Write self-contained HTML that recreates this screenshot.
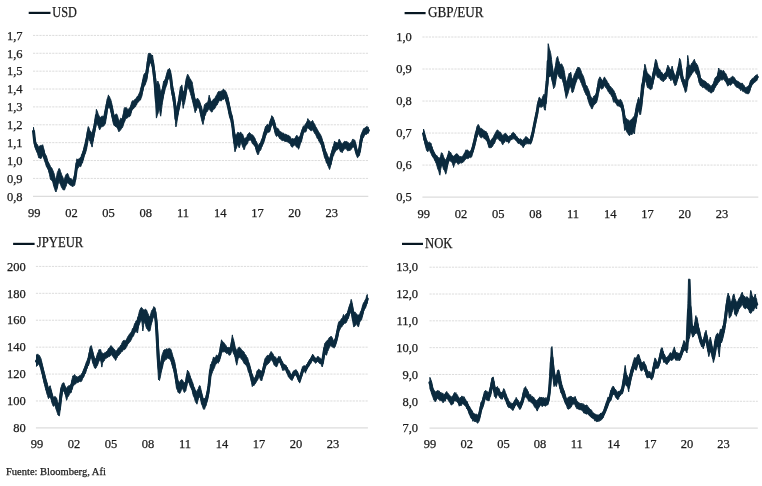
<!DOCTYPE html>
<html><head><meta charset="utf-8"><style>
html,body{margin:0;padding:0;background:#fff;}
svg{display:block;}
text{font-family:'Liberation Serif', serif;fill:#1c1c1c;stroke:#1c1c1c;stroke-width:0.25px;}
.lg{font-size:13.6px;}
.yl{font-size:12.5px;text-anchor:end;}
.xl{font-size:12.5px;text-anchor:middle;}
.ft{font-size:10.5px;}
.gd{stroke:#dcdcdc;stroke-width:1;stroke-dasharray:2.2 1;}
.ax{stroke:#dcdcdc;stroke-width:1.2;}
</style></head><body>
<svg width="762" height="486" viewBox="0 0 762 486">
<rect width="762" height="486" fill="#fff"/>
<line x1="28.7" y1="12.9" x2="50.5" y2="12.9" stroke="#071722" stroke-width="2.2"/>
<text x="52.3" y="16.7" class="lg" textLength="24.5" lengthAdjust="spacingAndGlyphs">USD</text>
<line x1="33" y1="35.4" x2="368.3" y2="35.4" class="gd"/>
<text x="22.5" y="39.6" class="yl">1,7</text>
<line x1="33" y1="53.28" x2="368.3" y2="53.28" class="gd"/>
<text x="22.5" y="57.5" class="yl">1,6</text>
<line x1="33" y1="71.16" x2="368.3" y2="71.16" class="gd"/>
<text x="22.5" y="75.4" class="yl">1,5</text>
<line x1="33" y1="89.03" x2="368.3" y2="89.03" class="gd"/>
<text x="22.5" y="93.2" class="yl">1,4</text>
<line x1="33" y1="106.91" x2="368.3" y2="106.91" class="gd"/>
<text x="22.5" y="111.1" class="yl">1,3</text>
<line x1="33" y1="124.79" x2="368.3" y2="124.79" class="gd"/>
<text x="22.5" y="129.0" class="yl">1,2</text>
<line x1="33" y1="142.67" x2="368.3" y2="142.67" class="gd"/>
<text x="22.5" y="146.9" class="yl">1,1</text>
<line x1="33" y1="160.54" x2="368.3" y2="160.54" class="gd"/>
<text x="22.5" y="164.7" class="yl">1,0</text>
<line x1="33" y1="178.42" x2="368.3" y2="178.42" class="gd"/>
<text x="22.5" y="182.6" class="yl">0,9</text>
<line x1="33" y1="196.3" x2="368.3" y2="196.3" class="ax"/>
<text x="22.5" y="200.5" class="yl">0,8</text>
<text x="34.2" y="216.5" class="xl">99</text>
<text x="71.4" y="216.5" class="xl">02</text>
<text x="108.6" y="216.5" class="xl">05</text>
<text x="145.8" y="216.5" class="xl">08</text>
<text x="183.0" y="216.5" class="xl">11</text>
<text x="220.2" y="216.5" class="xl">14</text>
<text x="257.4" y="216.5" class="xl">17</text>
<text x="294.6" y="216.5" class="xl">20</text>
<text x="331.8" y="216.5" class="xl">23</text>
<polygon points="33.5,127.3 34.5,136.8 34.9,139.3 35.5,141.5 36.5,144.2 36.8,144.2 37.5,144.6 38.5,147.5 38.8,147.1 39.5,146.0 40.5,145.4 40.7,146.1 41.5,145.4 42.5,145.1 42.7,144.8 43.5,147.8 44.5,152.1 44.6,153.0 45.5,155.0 46.5,156.0 46.6,156.9 47.5,160.2 48.5,163.2 48.6,162.7 49.5,164.4 50.5,166.6 50.5,167.5 51.5,167.6 52.5,169.6 52.5,169.6 53.5,172.2 54.4,174.5 54.5,175.8 55.5,179.3 56.0,182.3 56.5,177.8 57.3,172.5 57.5,172.2 58.5,170.0 58.9,168.6 59.5,168.7 60.3,170.5 60.5,171.5 61.5,174.3 62.2,176.4 62.5,176.3 63.5,179.5 64.2,180.3 64.5,178.8 65.5,175.9 66.1,174.5 66.5,174.1 67.5,173.5 67.5,173.3 68.5,175.4 69.1,177.4 69.5,177.7 70.5,178.7 71.0,178.4 71.5,179.1 72.5,180.0 73.0,180.3 73.5,178.4 74.5,175.1 74.9,174.5 75.5,169.8 76.5,161.4 76.9,158.8 77.5,159.5 78.5,159.3 78.8,158.8 79.5,158.8 80.5,157.2 80.8,157.9 81.5,155.0 82.5,152.8 82.7,152.0 83.5,149.8 84.5,145.1 84.7,145.2 85.5,141.0 86.5,137.1 86.6,137.3 87.5,131.0 88.2,126.6 88.5,126.8 89.5,129.6 90.2,131.5 90.5,131.1 91.5,132.9 92.1,133.4 92.5,131.8 93.5,127.5 94.1,125.6 94.5,122.6 95.5,117.1 96.0,113.9 96.4,109.3 96.5,109.6 97.5,112.0 98.2,114.2 98.5,114.7 99.5,117.0 99.8,118.1 100.5,117.2 101.5,116.7 101.7,116.2 102.5,116.2 103.5,116.6 103.7,117.1 104.5,113.0 105.5,108.0 105.6,108.4 106.5,103.3 107.2,98.6 107.5,98.7 108.5,94.9 108.6,95.7 109.5,96.7 110.1,98.6 110.5,98.9 111.5,102.5 111.5,102.5 112.5,107.4 113.0,110.3 113.5,112.8 114.4,116.2 114.5,115.5 115.5,114.6 115.8,114.2 116.5,113.9 117.3,115.2 117.5,115.8 118.5,120.1 118.9,122.0 119.5,121.1 120.5,118.7 120.7,118.1 121.5,118.6 122.2,120.1 122.5,118.5 123.5,112.9 124.2,108.4 124.5,107.7 125.5,107.7 126.1,107.4 126.5,107.7 127.5,109.4 128.1,109.3 128.5,109.6 129.5,107.7 130.0,108.4 130.5,107.0 131.5,102.9 132.0,101.5 132.5,100.7 133.5,101.1 133.9,100.5 134.5,99.8 135.5,98.8 135.9,98.6 136.5,98.0 137.5,96.1 137.9,95.7 138.5,95.2 139.5,92.7 139.8,92.7 140.5,89.3 141.5,85.7 141.8,84.9 142.5,81.1 143.5,76.1 143.7,75.2 144.5,73.5 145.5,73.2 145.7,73.2 146.5,68.9 147.0,65.4 147.5,60.5 148.2,54.6 148.5,53.5 149.5,53.6 149.6,53.3 150.5,53.6 150.9,54.6 151.5,55.1 152.5,55.6 152.5,55.0 153.5,62.9 153.9,65.4 154.5,70.1 155.0,73.2 155.5,77.2 156.4,84.9 156.5,85.1 157.5,82.3 157.8,81.0 158.5,82.8 159.3,84.9 159.5,86.0 160.5,92.0 160.7,92.7 161.5,90.6 162.3,88.8 162.5,88.0 163.5,82.1 163.8,81.0 164.5,80.6 165.2,79.1 165.5,78.6 166.5,74.4 166.8,73.2 167.5,71.1 168.1,69.3 168.5,69.5 169.5,68.3 169.5,68.5 170.5,71.0 170.7,72.2 171.5,78.8 172.0,83.0 172.5,85.6 173.5,90.9 173.6,90.8 174.5,95.2 175.0,98.6 175.5,105.8 175.9,110.3 176.5,107.6 177.5,104.5 177.5,104.7 178.5,100.3 178.9,98.6 179.5,93.3 180.4,86.9 180.5,87.1 181.5,85.7 181.8,84.9 182.5,89.8 183.2,92.7 183.5,91.6 184.5,91.1 184.7,90.8 185.5,84.0 186.1,79.1 186.5,77.9 187.5,74.4 187.7,74.2 188.5,75.6 189.5,77.9 190.5,79.5 190.5,79.2 191.5,81.5 192.0,81.5 192.5,84.4 193.5,90.9 193.6,91.2 194.5,96.3 195.2,99.1 195.5,99.5 196.5,99.4 196.7,99.1 197.5,98.2 198.3,99.1 198.5,99.4 199.5,101.2 199.8,102.0 200.5,104.2 201.4,106.9 201.5,106.5 202.5,111.7 203.0,112.7 203.5,110.9 204.5,104.6 204.5,104.9 205.5,104.2 206.1,103.0 206.5,102.9 207.5,103.2 207.7,103.0 208.5,99.2 209.2,95.2 209.5,96.8 210.5,99.8 210.8,101.0 211.5,101.5 212.3,101.0 212.5,101.1 213.5,99.0 213.9,99.1 214.5,98.9 215.5,97.1 215.5,97.1 216.5,95.1 217.2,94.2 217.5,93.1 218.5,91.6 219.2,91.2 219.5,92.2 220.5,91.3 221.1,92.2 221.5,90.8 222.5,90.7 223.1,89.3 223.5,89.0 224.5,90.6 225.0,90.3 225.5,91.1 226.5,92.8 226.6,93.2 227.5,96.3 228.0,97.1 228.5,100.1 229.5,104.8 229.5,104.9 230.5,109.1 231.1,112.7 231.5,113.6 232.5,117.2 232.7,118.6 233.5,125.6 233.8,128.4 234.5,131.4 235.0,134.2 235.5,134.6 236.4,136.2 236.5,135.1 237.5,132.6 237.7,132.3 238.5,132.5 239.3,134.2 239.5,133.3 240.5,132.1 240.9,132.3 241.5,133.4 242.4,134.2 242.5,133.9 243.5,136.9 244.0,138.1 244.5,138.8 245.5,137.9 245.5,138.1 246.5,137.6 247.1,136.2 247.5,134.6 248.5,133.5 248.7,133.2 249.5,132.6 250.2,133.2 250.5,134.0 251.5,134.4 251.8,135.2 252.5,134.8 253.4,136.2 253.5,135.9 254.5,138.1 254.9,138.1 255.5,140.3 256.5,142.0 256.5,142.1 257.5,144.2 257.9,145.9 258.5,145.8 259.2,144.0 259.5,143.5 260.5,142.5 260.8,142.0 261.5,139.7 262.3,138.1 262.5,138.1 263.5,133.0 263.9,132.3 264.5,130.6 265.5,126.4 265.5,126.8 266.5,126.0 267.0,124.5 267.5,124.3 268.5,125.7 268.6,126.4 269.5,122.8 270.2,120.5 270.5,120.2 271.5,117.1 271.7,115.7 272.5,116.4 273.3,117.6 273.5,118.3 274.5,122.1 274.8,122.5 275.5,125.6 276.4,128.4 276.5,129.2 277.5,128.1 278.0,128.4 278.5,128.9 279.5,131.8 279.5,131.3 280.5,131.6 281.1,132.3 281.5,132.3 282.5,132.9 282.7,133.2 283.5,133.0 284.5,134.5 285.5,134.0 285.9,135.2 286.5,134.6 287.5,135.2 287.5,135.3 288.5,135.3 289.1,136.1 289.5,136.0 290.5,137.2 290.6,138.1 291.5,139.0 292.2,139.1 292.5,138.5 293.5,138.8 293.8,139.1 294.5,138.6 295.3,138.1 295.5,137.2 296.5,135.6 296.9,135.2 297.5,136.6 298.4,137.1 298.5,137.2 299.5,136.8 300.0,136.1 300.5,134.4 301.5,131.3 301.6,131.2 302.5,128.9 303.1,126.4 303.5,126.1 304.5,126.4 304.7,125.4 305.5,123.8 306.2,123.4 306.5,123.0 307.5,120.3 307.8,118.6 308.5,120.3 309.4,120.5 309.5,120.8 310.5,122.0 310.9,122.5 311.5,121.5 312.5,120.5 312.5,120.4 313.5,122.4 314.1,123.4 314.5,123.8 315.5,126.5 315.6,126.4 316.5,127.9 317.2,129.3 317.5,129.6 318.5,132.0 318.8,132.2 319.5,132.9 320.3,135.2 320.5,134.7 321.5,137.1 321.9,138.1 322.5,140.5 323.4,143.0 323.5,142.6 324.5,147.6 325.0,148.8 325.5,150.8 326.5,152.5 326.6,152.7 327.5,155.4 328.1,156.6 328.5,157.2 329.5,158.8 329.7,158.6 330.5,155.6 331.2,152.7 331.5,152.4 332.5,148.4 332.8,146.9 333.5,145.5 334.4,142.0 334.5,141.1 335.5,142.9 335.9,142.0 336.5,142.5 337.5,143.0 337.5,143.6 338.5,141.3 339.1,139.1 339.5,139.4 340.5,142.0 340.6,142.0 341.5,142.9 342.2,143.9 342.5,144.2 343.5,142.4 343.8,142.0 344.5,141.3 345.3,142.0 345.5,141.5 346.5,141.4 346.9,142.0 347.5,141.9 348.4,143.0 348.5,143.1 349.5,143.4 350.0,143.9 350.5,142.6 351.5,142.7 351.6,142.0 352.5,139.4 353.1,139.1 353.5,140.2 354.5,140.0 354.7,140.0 355.5,142.9 356.2,146.9 356.5,148.1 357.5,150.7 357.8,150.8 358.5,149.5 359.4,146.9 359.5,145.9 360.5,137.6 360.9,135.2 361.5,133.6 362.5,131.2 362.5,131.5 363.5,128.7 364.1,128.3 364.5,128.3 365.5,127.6 365.6,127.3 366.5,126.7 367.2,126.4 367.5,127.3 368.4,127.3 368.4,133.2 367.5,133.3 367.2,133.2 366.5,134.4 365.6,134.2 365.5,133.8 364.5,135.5 364.1,136.1 363.5,137.6 362.5,138.2 362.5,139.1 361.5,143.5 360.9,146.9 360.5,148.7 359.5,155.2 359.4,155.7 358.5,155.9 357.8,157.6 357.5,157.8 356.5,155.3 356.2,154.7 355.5,151.8 354.7,147.9 354.5,147.6 353.5,147.3 353.1,146.9 352.5,147.0 351.6,148.8 351.5,149.2 350.5,149.5 350.0,150.8 349.5,150.4 348.5,149.9 348.4,150.8 347.5,150.8 346.9,149.8 346.5,148.8 345.5,148.7 345.3,148.8 344.5,148.7 343.8,149.8 343.5,150.3 342.5,151.7 342.2,152.7 341.5,151.7 340.6,151.8 340.5,151.9 339.5,149.1 339.1,148.8 338.5,148.7 337.5,149.3 337.5,149.8 336.5,149.9 335.9,150.8 335.5,151.0 334.5,153.1 334.4,152.7 333.5,155.8 332.8,156.6 332.5,158.1 331.5,162.3 331.2,164.5 330.5,165.9 329.7,169.3 329.5,169.5 328.5,166.6 328.1,166.4 327.5,164.4 326.6,162.5 326.5,163.1 325.5,159.4 325.0,158.6 324.5,157.6 323.5,152.4 323.4,152.7 322.5,149.7 321.9,146.9 321.5,145.2 320.5,143.8 320.3,143.0 319.5,141.9 318.8,141.0 318.5,139.7 317.5,138.7 317.2,138.1 316.5,136.6 315.6,134.2 315.5,133.6 314.5,133.4 314.1,132.2 313.5,131.2 312.5,129.7 312.5,129.3 311.5,130.8 310.9,130.3 310.5,130.6 309.5,129.3 309.4,129.3 308.5,128.6 307.8,127.3 307.5,127.3 306.5,129.8 306.2,131.2 305.5,132.1 304.7,132.2 304.5,131.6 303.5,132.9 303.1,133.2 302.5,136.3 301.6,141.0 301.5,141.7 300.5,143.1 300.0,144.9 299.5,146.8 298.5,149.3 298.4,148.8 297.5,147.0 296.9,146.9 296.5,147.2 295.5,145.3 295.3,144.9 294.5,144.8 293.8,145.9 293.5,145.3 292.5,147.3 292.2,146.9 291.5,146.7 290.6,144.9 290.5,144.5 289.5,143.1 289.1,143.0 288.5,142.8 287.5,141.4 287.5,142.0 286.5,141.3 285.9,142.0 285.5,140.9 284.5,141.2 283.5,140.4 282.7,140.1 282.5,140.7 281.5,140.2 281.1,139.1 280.5,139.2 279.5,138.1 279.5,138.4 278.5,136.2 278.0,136.2 277.5,135.7 276.5,136.6 276.4,136.2 275.5,134.7 274.8,132.3 274.5,130.3 273.5,125.8 273.3,124.5 272.5,125.3 271.7,124.5 271.5,125.2 270.5,128.9 270.2,130.3 269.5,132.0 268.6,132.3 268.5,132.3 267.5,132.8 267.0,132.3 266.5,134.1 265.5,136.2 265.5,136.2 264.5,140.1 263.9,142.0 263.5,143.1 262.5,145.3 262.3,145.9 261.5,147.4 260.8,149.8 260.5,150.4 259.5,150.7 259.2,151.8 258.5,154.2 257.9,154.9 257.5,154.3 256.5,151.2 256.5,151.8 255.5,147.5 254.9,145.9 254.5,145.9 253.5,144.6 253.4,144.0 252.5,143.8 251.8,142.0 251.5,141.5 250.5,139.7 250.2,140.1 249.5,140.3 248.7,140.1 248.5,139.7 247.5,143.6 247.1,144.0 246.5,144.8 245.5,145.9 245.5,145.1 244.5,149.0 244.0,149.8 243.5,148.2 242.5,146.6 242.4,145.9 241.5,142.9 240.9,142.0 240.5,143.4 239.5,147.1 239.3,147.9 238.5,146.4 237.7,144.0 237.5,144.2 236.5,147.9 236.4,147.9 235.5,149.9 235.0,151.8 234.5,148.4 233.8,142.0 233.5,139.1 232.7,130.3 232.5,128.6 231.5,123.9 231.1,120.5 230.5,119.7 229.5,116.6 229.5,116.8 228.5,111.8 228.0,108.8 227.5,107.2 226.6,103.0 226.5,103.3 225.5,100.0 225.0,98.1 224.5,98.6 223.5,99.6 223.1,99.1 222.5,98.9 221.5,100.8 221.1,101.0 220.5,100.7 219.5,100.3 219.2,101.0 218.5,101.9 217.5,103.9 217.2,104.9 216.5,104.9 215.5,106.9 215.5,106.9 214.5,108.9 213.9,108.8 213.5,109.6 212.5,110.8 212.3,111.8 211.5,112.1 210.8,110.8 210.5,111.0 209.5,109.1 209.2,108.8 208.5,108.9 207.7,110.8 207.5,111.2 206.5,112.3 206.1,112.7 205.5,114.8 204.5,116.6 204.5,117.5 203.5,121.8 203.0,124.5 202.5,122.9 201.5,119.5 201.4,118.6 200.5,114.6 199.8,110.8 199.5,109.4 198.5,107.3 198.3,106.9 197.5,107.6 196.7,108.8 196.5,110.0 195.5,111.3 195.2,112.7 194.5,109.6 193.6,104.9 193.5,105.1 192.5,100.7 192.0,99.1 191.5,96.8 190.5,93.7 190.5,93.2 189.5,90.3 188.5,88.0 187.7,84.9 187.5,85.8 186.5,91.2 186.1,92.7 185.5,96.3 184.7,102.5 184.5,102.8 183.5,106.2 183.2,108.4 182.5,102.4 181.8,96.6 181.5,97.5 180.5,102.7 180.4,102.5 179.5,107.9 178.9,110.3 178.5,112.5 177.5,118.0 177.5,118.1 176.5,124.5 175.9,126.9 175.5,121.8 175.0,114.2 174.5,109.7 173.6,102.5 173.5,102.5 172.5,96.5 172.0,94.7 171.5,91.1 170.7,83.0 170.5,81.9 169.5,76.6 169.5,77.1 168.5,79.1 168.1,79.1 167.5,80.9 166.8,84.9 166.5,85.1 165.5,88.2 165.2,88.8 164.5,92.2 163.8,94.7 163.5,96.1 162.5,101.9 162.3,102.5 161.5,109.8 160.7,116.2 160.5,115.7 159.5,108.7 159.3,108.4 158.5,111.1 157.8,114.2 157.5,114.2 156.5,117.8 156.4,118.1 155.5,99.6 155.0,90.8 154.5,84.8 153.9,79.1 153.5,75.9 152.5,66.7 152.5,67.3 151.5,64.8 150.9,63.4 150.5,62.9 149.6,63.4 149.5,64.2 148.5,68.3 148.2,69.3 147.5,75.1 147.0,79.1 146.5,81.3 145.7,83.0 145.5,84.1 144.5,85.9 143.7,86.9 143.5,88.3 142.5,92.2 141.8,96.6 141.5,96.6 140.5,99.9 139.8,100.5 139.5,100.2 138.5,101.9 137.9,102.5 137.5,102.1 136.5,105.0 135.9,105.4 135.5,106.7 134.5,107.6 133.9,108.4 133.5,108.4 132.5,109.7 132.0,110.3 131.5,110.9 130.5,115.6 130.0,116.2 129.5,116.7 128.5,116.7 128.1,117.1 127.5,117.9 126.5,118.4 126.1,118.1 125.5,119.2 124.5,121.9 124.2,122.0 123.5,124.3 122.5,127.6 122.2,127.9 121.5,128.5 120.7,129.8 120.5,130.0 119.5,131.1 118.9,131.8 118.5,130.9 117.5,127.9 117.3,127.9 116.5,127.3 115.8,125.9 115.5,126.7 114.5,125.5 114.4,125.9 113.5,124.1 113.0,122.0 112.5,119.6 111.5,114.8 111.5,114.2 110.5,110.5 110.1,108.4 109.5,108.1 108.6,106.4 108.5,107.1 107.5,109.5 107.2,110.3 106.5,116.2 105.6,122.0 105.5,123.0 104.5,125.0 103.7,125.9 103.5,126.2 102.5,126.6 101.7,125.9 101.5,126.9 100.5,127.9 99.8,129.8 99.5,129.7 98.5,126.5 98.2,125.9 97.5,124.5 96.5,122.5 96.4,122.0 96.0,125.6 95.5,128.1 94.5,133.0 94.1,135.4 93.5,138.7 92.5,144.7 92.1,147.1 91.5,144.9 90.5,142.9 90.2,141.2 89.5,140.8 88.5,137.1 88.2,137.3 87.5,142.0 86.6,149.1 86.5,149.3 85.5,152.9 84.7,154.9 84.5,154.7 83.5,159.0 82.7,161.8 82.5,163.1 81.5,164.0 80.8,166.6 80.5,166.6 79.5,166.2 78.8,166.6 78.5,167.5 77.5,168.8 76.9,168.6 76.5,171.6 75.5,178.7 74.9,184.2 74.5,185.4 73.5,185.8 73.0,186.6 72.5,186.4 71.5,186.0 71.0,185.2 70.5,185.2 69.5,184.7 69.1,184.2 68.5,183.4 67.5,182.6 67.5,182.3 66.5,184.6 66.1,186.2 65.5,187.1 64.5,190.0 64.2,190.1 63.5,190.0 62.5,189.0 62.2,188.1 61.5,187.3 60.5,184.2 60.3,184.2 59.5,182.6 58.9,180.3 58.5,182.0 57.5,187.0 57.3,188.1 56.5,190.6 56.0,192.0 55.5,191.5 54.5,188.1 54.4,188.1 53.5,185.0 52.5,180.7 52.5,181.3 51.5,180.0 50.5,179.5 50.5,179.3 49.5,174.3 48.6,170.5 48.5,170.2 47.5,168.4 46.6,166.6 46.5,166.8 45.5,163.3 44.6,160.8 44.5,160.4 43.5,157.3 42.7,154.9 42.5,155.3 41.5,157.9 40.7,158.8 40.5,158.5 39.5,157.9 38.8,157.9 38.5,156.9 37.5,153.3 36.8,152.0 36.5,151.1 35.5,148.7 34.9,147.1 34.5,143.3 33.5,135.6" fill="#0b2a3e" stroke="#0b2a3e" stroke-width="1" stroke-linejoin="round"/>
<polyline points="33.5,131.3 34.9,143.2 36.8,148.1 38.8,152.5 40.7,152.5 42.7,149.8 44.6,156.9 46.6,161.8 48.6,166.6 50.5,173.0 52.5,175.4 54.4,181.3 56.0,187.1 57.3,180.3 58.9,174.5 60.3,177.4 62.2,182.3 64.2,185.2 66.1,180.3 67.5,177.9 69.1,180.8 71.0,181.8 73.0,183.4 74.9,179.3 76.9,163.7 78.8,162.7 80.8,162.2 82.7,156.9 84.7,150.0 86.6,143.2 88.2,132.0 90.2,136.4 92.1,140.3 94.1,130.5 96.0,119.8 96.4,115.7 98.2,120.1 99.8,124.0 101.7,121.1 103.7,121.5 105.6,115.2 107.2,104.5 108.6,101.0 110.1,103.5 111.5,108.4 113.0,116.2 114.4,121.1 115.8,120.1 117.3,121.5 118.9,126.9 120.7,124.0 122.2,124.0 124.2,115.2 126.1,112.8 128.1,113.2 130.0,112.3 132.0,105.9 133.9,104.5 135.9,102.0 137.9,99.1 139.8,96.6 141.8,90.8 143.7,81.0 145.7,78.1 147.0,72.2 148.2,62.0 149.6,58.4 150.9,59.0 152.5,61.5 153.9,72.2 155.0,82.0 156.4,101.5 157.8,97.6 159.3,96.6 160.7,104.5 162.3,95.7 163.8,87.9 165.2,83.9 166.8,79.1 168.1,74.2 169.5,72.7 170.7,77.6 172.0,88.8 173.6,96.6 175.0,106.4 175.9,118.6 177.5,111.3 178.9,104.5 180.4,94.7 181.8,90.8 183.2,100.5 184.7,96.6 186.1,85.9 187.7,79.6 190.5,86.4 192.0,90.3 193.6,98.1 195.2,105.9 196.7,103.9 198.3,103.0 199.8,106.4 201.4,112.7 203.0,118.6 204.5,110.8 206.1,107.9 207.7,106.9 209.2,102.0 210.8,105.9 212.3,106.4 213.9,103.9 215.5,102.0 217.2,99.6 219.2,96.1 221.1,96.6 223.1,94.2 225.0,94.2 226.6,98.1 228.0,103.0 229.5,110.8 231.1,116.6 232.7,124.5 233.8,135.2 235.0,143.0 236.4,142.0 237.7,138.1 239.3,141.1 240.9,137.1 242.4,140.1 244.0,144.0 245.5,142.0 247.1,140.1 248.7,136.7 250.2,136.7 251.8,138.6 253.4,140.1 254.9,142.0 256.5,146.9 257.9,150.4 259.2,147.9 260.8,145.9 262.3,142.0 263.9,137.1 265.5,131.3 267.0,128.4 268.6,129.3 270.2,125.4 271.7,120.1 273.3,121.0 274.8,127.4 276.4,132.3 278.0,132.3 279.5,134.7 281.1,135.7 282.7,136.7 285.9,138.6 287.5,138.6 289.1,139.6 290.6,141.5 292.2,143.0 293.8,142.5 295.3,141.5 296.9,141.0 298.4,143.0 300.0,140.5 301.6,136.1 303.1,129.8 304.7,128.8 306.2,127.3 307.8,122.9 309.4,124.9 310.9,126.4 312.5,124.9 314.1,127.8 315.6,130.3 317.2,133.7 318.8,136.6 320.3,139.1 321.9,142.5 323.4,147.9 325.0,153.7 326.6,157.6 328.1,161.5 329.7,164.0 331.2,158.6 332.8,151.8 334.4,147.4 335.9,146.4 337.5,146.4 339.1,143.9 340.6,146.9 342.2,148.3 343.8,145.9 345.3,145.4 346.9,145.9 348.4,146.9 350.0,147.4 351.6,145.4 353.1,143.0 354.7,143.9 356.2,150.8 357.8,154.2 359.4,151.3 360.9,141.0 362.5,135.2 364.1,132.2 365.6,130.8 367.2,129.8 368.4,130.3" fill="none" stroke="#0b2a3e" stroke-width="3.0" stroke-linejoin="round" stroke-linecap="round"/>
<line x1="404.6" y1="13.1" x2="425.6" y2="13.1" stroke="#071722" stroke-width="2.2"/>
<text x="428.0" y="17.0" class="lg" textLength="55.5" lengthAdjust="spacingAndGlyphs">GBP/EUR</text>
<line x1="422.4" y1="37.0" x2="758.3" y2="37.0" class="gd"/>
<text x="411.8" y="41.2" class="yl">1,0</text>
<line x1="422.4" y1="69.02" x2="758.3" y2="69.02" class="gd"/>
<text x="411.8" y="73.2" class="yl">0,9</text>
<line x1="422.4" y1="101.04" x2="758.3" y2="101.04" class="gd"/>
<text x="411.8" y="105.2" class="yl">0,8</text>
<line x1="422.4" y1="133.06" x2="758.3" y2="133.06" class="gd"/>
<text x="411.8" y="137.3" class="yl">0,7</text>
<line x1="422.4" y1="165.08" x2="758.3" y2="165.08" class="gd"/>
<text x="411.8" y="169.3" class="yl">0,6</text>
<line x1="422.4" y1="197.1" x2="758.3" y2="197.1" class="ax"/>
<text x="411.8" y="201.3" class="yl">0,5</text>
<text x="423.7" y="217.5" class="xl">99</text>
<text x="461.0" y="217.5" class="xl">02</text>
<text x="498.3" y="217.5" class="xl">05</text>
<text x="535.6" y="217.5" class="xl">08</text>
<text x="572.9" y="217.5" class="xl">11</text>
<text x="610.2" y="217.5" class="xl">14</text>
<text x="647.5" y="217.5" class="xl">17</text>
<text x="684.8" y="217.5" class="xl">20</text>
<text x="722.1" y="217.5" class="xl">23</text>
<polygon points="423.5,129.0 424.5,132.2 424.8,134.2 425.5,136.2 426.2,139.1 426.5,139.5 427.5,141.8 427.8,143.0 428.5,142.4 429.3,142.0 429.5,142.2 430.5,143.0 430.9,143.0 431.5,145.5 432.5,147.9 432.5,148.6 433.5,150.9 434.0,151.8 434.5,152.7 435.5,155.1 435.6,154.7 436.5,155.5 437.1,155.7 437.5,156.6 438.5,157.6 438.7,158.6 439.5,157.8 439.9,158.6 440.5,156.9 441.4,152.7 441.5,153.3 442.5,153.4 442.8,154.7 443.5,156.5 444.2,158.6 444.5,158.6 445.5,160.0 445.7,160.5 446.5,159.0 447.3,156.6 447.5,156.8 448.5,152.4 448.9,150.8 449.5,152.3 450.4,152.7 450.5,152.2 451.5,154.4 452.0,154.7 452.5,155.9 453.5,156.2 453.5,156.6 454.5,155.4 455.1,154.7 455.5,154.4 456.5,153.8 456.7,153.7 457.5,154.0 458.2,155.7 458.5,155.2 459.5,156.9 459.8,156.6 460.5,156.6 461.4,156.6 461.5,157.3 462.5,156.5 462.9,155.7 463.5,154.9 464.5,153.0 464.5,153.7 465.5,150.9 466.0,149.8 466.5,150.3 467.5,149.9 467.6,150.8 468.5,150.8 469.2,151.8 469.5,151.8 470.5,151.2 470.7,150.8 471.5,149.2 472.3,146.9 472.5,145.8 473.5,141.8 473.9,141.0 474.5,137.6 475.4,133.2 475.5,133.7 476.5,129.1 477.0,126.4 477.5,125.6 478.2,124.4 478.5,124.8 479.5,126.7 479.7,127.3 480.5,128.5 481.3,129.3 481.5,128.4 482.5,129.3 482.8,129.3 483.5,130.6 484.4,131.2 484.5,130.7 485.5,131.5 486.0,131.2 486.5,133.0 487.5,133.3 487.5,134.2 488.5,137.0 489.1,139.1 489.5,140.1 490.5,141.2 490.7,141.0 491.5,139.3 492.2,139.1 492.5,137.9 493.5,137.5 493.8,136.1 494.5,134.5 495.3,133.2 495.5,133.1 496.5,130.9 496.9,130.3 497.5,129.9 498.5,131.1 498.5,131.2 499.5,131.9 500.5,132.2 501.4,134.0 501.5,134.6 502.5,135.1 502.9,135.4 503.5,135.1 504.3,134.0 504.5,133.7 505.5,133.2 505.8,134.0 506.5,134.2 507.2,136.1 507.5,135.6 508.5,136.6 508.6,136.8 509.5,136.0 510.1,135.4 510.5,135.6 511.5,134.9 511.5,134.0 512.5,132.8 512.9,132.5 513.5,132.4 514.4,133.2 514.5,134.0 515.5,134.5 515.8,135.4 516.5,136.7 517.3,136.8 517.5,137.4 518.5,138.7 518.7,138.3 519.5,139.5 520.1,139.0 520.5,138.7 521.5,140.2 521.6,139.7 522.5,140.6 523.0,140.4 523.5,139.2 524.5,139.0 524.5,139.2 525.5,136.7 525.9,136.8 526.5,136.9 527.3,137.6 527.5,137.6 528.5,139.2 528.8,139.0 529.5,139.6 530.2,139.7 530.5,138.5 531.5,134.4 531.7,134.0 532.5,130.9 533.1,127.5 533.5,126.4 534.5,120.8 534.5,120.3 535.5,116.2 536.0,113.1 536.5,111.5 537.1,108.8 537.5,107.0 538.1,101.6 538.5,99.8 539.1,97.3 539.5,97.3 540.3,98.7 540.5,99.0 541.5,99.7 541.7,100.1 542.5,97.2 543.2,95.8 543.5,94.7 544.3,94.4 544.5,95.2 545.3,95.8 545.5,94.1 546.2,80.8 546.5,80.6 547.2,76.9 547.5,68.8 548.2,43.7 548.5,44.9 549.4,49.5 549.5,49.2 550.5,52.5 550.7,53.4 551.5,59.4 552.1,65.2 552.5,67.2 553.5,75.5 553.5,74.9 554.5,70.1 554.8,69.1 555.5,65.6 556.4,59.3 556.5,58.4 557.5,56.7 557.6,56.4 558.5,60.4 558.9,61.2 559.5,63.0 560.3,65.2 560.5,64.5 561.5,63.9 561.9,64.2 562.5,65.7 563.2,67.1 563.5,68.2 564.5,72.4 564.8,74.9 565.5,79.5 566.2,82.7 566.5,82.2 567.5,79.0 567.7,78.8 568.5,75.5 569.3,73.0 569.5,73.5 570.5,72.5 570.7,72.0 571.5,76.6 572.0,78.8 572.5,79.1 573.5,77.8 573.6,76.9 574.5,74.2 575.2,73.0 575.5,72.4 576.5,70.0 576.5,69.1 577.5,68.5 577.9,67.1 578.5,67.5 579.5,68.1 579.5,67.7 580.5,69.6 581.0,71.0 581.5,72.5 582.5,75.2 582.6,74.9 583.5,76.5 584.1,78.8 584.5,79.6 585.5,84.5 585.7,84.7 586.5,85.4 587.3,86.6 587.5,87.4 588.5,89.8 588.8,90.5 589.5,92.5 590.4,96.4 590.5,96.1 591.5,97.5 592.0,98.4 592.5,98.2 593.5,97.3 593.5,96.4 594.5,95.8 595.1,95.4 595.5,94.7 596.5,92.9 596.6,92.5 597.5,86.6 598.2,80.8 598.5,80.1 599.5,77.5 599.8,76.9 600.5,77.4 601.3,79.8 601.5,79.3 602.5,80.9 602.9,80.8 603.5,78.9 604.5,76.9 604.5,77.1 605.5,79.1 606.0,79.8 606.5,80.1 607.5,82.5 607.6,82.7 608.5,83.2 609.1,84.7 609.5,85.7 610.5,86.6 610.7,86.6 611.5,88.2 612.3,88.6 612.5,88.6 613.5,90.8 613.8,90.5 614.5,92.3 615.5,94.0 615.5,94.5 616.5,97.8 617.0,99.3 617.5,99.9 618.5,99.9 618.6,100.3 619.5,100.2 620.2,99.3 620.5,99.3 621.5,100.9 621.7,101.3 622.5,103.3 623.3,106.2 623.5,107.4 624.5,114.8 624.5,114.5 625.5,118.3 625.6,118.8 626.5,118.4 626.8,118.8 627.5,119.7 627.9,120.3 628.5,119.9 629.4,121.7 629.5,121.6 630.5,119.9 630.8,120.3 631.5,119.2 632.0,118.8 632.5,118.9 633.1,117.4 633.5,116.7 634.3,117.4 634.5,116.8 635.4,111.7 635.5,111.1 636.5,104.7 636.6,104.5 637.5,101.9 637.7,100.1 638.5,98.2 638.7,97.3 639.5,100.7 639.7,101.6 640.5,99.4 640.6,98.7 641.5,85.0 641.5,85.8 642.5,81.4 643.5,75.7 643.6,74.9 644.5,67.4 644.8,64.2 645.5,66.2 646.1,69.1 646.5,70.5 647.5,74.1 647.5,73.9 648.5,73.9 649.1,74.9 649.5,75.6 650.5,76.0 650.6,76.9 651.5,78.7 652.0,78.8 652.5,75.7 653.4,71.0 653.5,70.8 654.5,66.0 654.5,65.2 655.5,59.8 655.7,59.3 656.5,60.6 656.9,62.2 657.5,64.7 658.4,69.1 658.5,68.4 659.5,69.2 660.0,70.0 660.5,71.2 661.5,72.4 661.6,72.0 662.5,73.6 663.1,73.9 663.5,74.6 664.5,74.0 664.7,73.0 665.5,73.0 666.2,72.0 666.5,70.2 667.5,66.4 667.8,65.2 668.5,66.3 669.4,68.1 669.5,68.6 670.5,69.3 670.9,70.0 671.5,69.0 672.1,66.1 672.5,68.1 673.5,72.6 673.5,72.0 674.5,74.7 675.0,76.9 675.5,75.7 676.4,73.9 676.5,73.1 677.5,69.4 678.0,68.1 678.5,65.8 679.5,58.8 679.5,58.3 680.5,60.3 680.7,61.2 681.5,67.5 682.3,74.9 682.5,75.8 683.5,78.5 683.8,78.8 684.5,79.7 685.4,82.7 685.5,82.1 686.5,77.4 686.6,76.9 687.5,60.3 687.7,55.4 688.5,60.7 688.9,65.2 689.5,65.1 690.1,66.1 690.5,66.3 691.5,63.5 691.6,64.2 692.5,62.4 693.2,61.2 693.5,60.9 694.4,59.3 694.5,60.1 695.5,62.9 695.9,63.2 696.5,63.5 697.5,65.9 697.5,65.2 698.5,68.8 699.1,71.0 699.5,72.0 700.5,77.8 700.6,77.9 701.5,78.6 702.2,79.8 702.5,79.9 703.5,80.3 703.8,80.8 704.5,80.8 705.3,81.8 705.5,81.3 706.5,82.7 706.9,82.7 707.5,83.7 708.4,83.7 708.5,83.9 709.5,84.8 710.1,85.3 710.5,86.2 711.5,86.3 711.5,86.0 712.5,84.5 713.0,84.6 713.5,82.7 714.4,80.3 714.5,79.3 715.5,77.4 715.9,77.4 716.5,76.6 717.3,75.9 717.5,74.5 718.5,69.8 718.7,68.0 719.5,70.5 719.9,71.6 720.5,70.0 721.0,70.2 721.5,70.4 722.2,71.6 722.5,71.2 723.3,70.2 723.5,70.5 724.5,72.1 724.5,72.3 725.5,73.3 725.9,73.8 726.5,75.3 727.4,77.4 727.5,77.6 728.5,79.2 728.8,78.8 729.5,78.6 730.3,78.8 730.5,78.2 731.5,76.9 731.7,77.4 732.5,76.2 733.1,76.7 733.5,76.9 734.5,77.7 734.6,78.1 735.5,79.5 736.0,80.3 736.5,80.7 737.5,81.0 737.5,81.7 738.5,81.7 738.9,81.7 739.5,82.4 740.3,83.9 740.5,83.1 741.5,84.0 741.8,83.1 742.5,83.3 743.2,85.3 743.5,85.0 744.5,85.8 744.7,86.7 745.5,87.5 746.1,87.5 746.5,87.2 747.5,86.6 747.6,87.5 748.5,85.8 749.0,86.0 749.5,84.3 750.4,81.0 750.5,80.6 751.5,79.6 751.9,78.8 752.5,78.4 753.3,78.1 753.5,78.4 754.5,76.4 754.8,76.7 755.5,75.5 756.2,75.2 756.5,75.1 757.3,74.5 757.3,79.5 756.5,81.0 756.2,81.0 755.5,81.5 754.8,82.4 754.5,82.1 753.5,83.3 753.3,83.9 752.5,84.2 751.9,85.3 751.5,86.1 750.5,88.4 750.4,88.9 749.5,92.3 749.0,93.2 748.5,93.8 747.6,93.9 747.5,93.1 746.5,93.6 746.1,93.2 745.5,93.1 744.7,92.5 744.5,91.7 743.5,91.0 743.2,91.8 742.5,91.2 741.8,89.6 741.5,89.8 740.5,90.5 740.3,89.6 739.5,89.0 738.9,88.2 738.5,88.1 737.5,87.0 737.5,87.5 736.5,87.2 736.0,86.0 735.5,86.1 734.6,84.6 734.5,84.2 733.5,83.2 733.1,83.1 732.5,83.0 731.7,83.9 731.5,84.3 730.5,85.3 730.3,85.3 729.5,84.5 728.8,85.3 728.5,85.6 727.5,86.0 727.4,85.3 726.5,82.9 725.9,82.4 725.5,81.7 724.5,80.3 724.5,80.1 723.5,79.3 723.3,78.8 722.5,79.8 722.2,80.3 721.5,79.9 721.0,78.8 720.5,79.3 719.9,81.0 719.5,81.4 718.7,81.7 718.5,82.6 717.5,83.8 717.3,84.6 716.5,85.5 715.9,86.0 715.5,87.2 714.5,88.6 714.4,88.9 713.5,91.5 713.0,91.8 712.5,91.5 711.5,93.2 711.5,92.5 710.5,92.8 710.1,91.8 709.5,91.7 708.5,91.1 708.4,91.5 707.5,89.7 706.9,89.6 706.5,90.0 705.5,89.1 705.3,88.6 704.5,87.9 703.8,87.6 703.5,87.3 702.5,87.6 702.2,86.6 701.5,86.3 700.6,85.7 700.5,85.9 699.5,83.3 699.1,82.7 698.5,79.2 697.5,74.9 697.5,75.0 696.5,74.3 695.9,73.0 695.5,72.0 694.5,70.5 694.4,71.0 693.5,71.2 693.2,72.0 692.5,73.2 691.6,73.9 691.5,75.1 690.5,75.3 690.1,76.9 689.5,77.8 688.9,78.8 688.5,79.6 687.7,80.8 687.5,82.3 686.6,90.5 686.5,91.1 685.5,92.1 685.4,92.5 684.5,88.9 683.8,86.6 683.5,86.6 682.5,82.5 682.3,82.7 681.5,80.5 680.7,76.9 680.5,76.5 679.5,73.0 679.5,73.9 678.5,76.8 678.0,78.8 677.5,79.8 676.5,83.7 676.4,84.7 675.5,85.0 675.0,85.7 674.5,84.6 673.5,81.8 673.5,81.2 672.5,79.0 672.1,76.9 671.5,78.8 670.9,80.8 670.5,79.7 669.5,78.3 669.4,78.8 668.5,76.2 667.8,74.9 667.5,76.4 666.5,77.6 666.2,78.8 665.5,79.4 664.7,79.8 664.5,80.0 663.5,81.5 663.1,81.8 662.5,80.7 661.6,79.8 661.5,80.6 660.5,79.8 660.0,78.8 659.5,77.6 658.5,77.1 658.4,77.9 657.5,77.3 656.9,75.9 656.5,74.6 655.7,73.0 655.5,74.3 654.5,76.9 654.5,77.2 653.5,80.5 653.4,80.8 652.5,85.3 652.0,88.6 651.5,89.1 650.6,89.6 650.5,89.8 649.5,88.7 649.1,88.6 648.5,87.8 647.5,87.6 647.5,87.6 646.5,83.6 646.1,82.7 645.5,80.5 644.8,78.8 644.5,81.6 643.6,88.6 643.5,90.4 642.5,99.6 641.5,108.8 641.5,108.0 640.6,114.5 640.5,114.3 639.7,114.5 639.5,113.5 638.7,108.8 638.5,110.6 637.7,113.1 637.5,114.7 636.6,118.8 636.5,119.8 635.5,125.2 635.4,124.6 634.5,133.1 634.3,134.0 633.5,132.2 633.1,131.8 632.5,133.0 632.0,134.7 631.5,134.5 630.8,133.2 630.5,134.3 629.5,135.7 629.4,135.4 628.5,134.8 627.9,133.2 627.5,133.0 626.8,131.8 626.5,131.5 625.6,128.9 625.5,128.9 624.5,130.4 624.5,129.5 623.5,117.3 623.3,115.9 622.5,112.8 621.7,109.1 621.5,108.7 620.5,106.7 620.2,107.1 619.5,106.2 618.6,106.2 618.5,105.5 617.5,106.0 617.0,105.2 616.5,104.3 615.5,102.3 615.5,103.1 614.5,101.6 613.8,102.3 613.5,101.7 612.5,97.9 612.3,97.4 611.5,96.0 610.7,94.5 610.5,93.8 609.5,93.7 609.1,92.5 608.5,92.0 607.6,90.5 607.5,90.1 606.5,88.0 606.0,87.6 605.5,87.5 604.5,84.8 604.5,84.7 603.5,87.3 602.9,88.6 602.5,88.6 601.5,89.2 601.3,88.6 600.5,87.8 599.8,88.6 599.5,89.3 598.5,93.6 598.2,94.5 597.5,98.8 596.6,102.3 596.5,102.1 595.5,103.7 595.1,103.2 594.5,104.8 593.5,105.2 593.5,105.5 592.5,108.0 592.0,109.1 591.5,108.6 590.5,105.6 590.4,106.2 589.5,104.4 588.8,102.3 588.5,101.1 587.5,97.9 587.3,96.4 586.5,95.0 585.7,94.5 585.5,93.5 584.5,91.5 584.1,90.5 583.5,88.3 582.6,86.6 582.5,86.4 581.5,83.3 581.0,82.7 580.5,81.1 579.5,78.8 579.5,78.8 578.5,78.4 577.9,76.9 577.5,78.4 576.5,80.8 576.5,80.8 575.5,83.8 575.2,84.7 574.5,87.0 573.6,90.5 573.5,91.4 572.5,92.6 572.0,92.5 571.5,89.6 570.7,86.6 570.5,86.0 569.5,88.0 569.3,88.6 568.5,91.2 567.7,94.5 567.5,94.4 566.5,97.6 566.2,98.4 565.5,94.0 564.8,90.5 564.5,88.9 563.5,83.0 563.2,82.7 562.5,80.4 561.9,78.8 561.5,78.5 560.5,78.2 560.3,78.8 559.5,77.1 558.9,76.9 558.5,75.1 557.6,73.0 557.5,72.9 556.5,76.9 556.4,76.9 555.5,83.0 554.8,86.6 554.5,87.2 553.5,88.6 553.5,87.8 552.5,82.3 552.1,80.8 551.5,77.9 550.7,74.9 550.5,75.9 549.5,77.0 549.4,76.9 548.5,77.7 548.2,78.8 547.5,86.9 547.2,88.6 546.5,98.5 546.2,100.3 545.5,108.3 545.3,110.2 544.5,109.8 544.3,108.8 543.5,105.0 543.2,104.5 542.5,106.4 541.7,107.3 541.5,107.1 540.5,106.6 540.3,107.3 539.5,107.0 539.1,105.9 538.5,107.2 538.1,108.8 537.5,114.2 537.1,116.0 536.5,119.6 536.0,121.7 535.5,124.1 534.5,128.9 534.5,129.3 533.5,134.2 533.1,136.1 532.5,138.1 531.7,141.9 531.5,142.5 530.5,144.2 530.2,144.0 529.5,143.7 528.8,143.3 528.5,144.0 527.5,143.8 527.3,143.3 526.5,143.9 525.9,143.3 525.5,144.2 524.5,145.5 524.5,144.7 523.5,147.4 523.0,147.6 522.5,146.6 521.6,144.7 521.5,145.1 520.5,144.8 520.1,144.0 519.5,143.1 518.7,143.3 518.5,143.8 517.5,142.7 517.3,141.9 516.5,141.3 515.8,140.4 515.5,140.2 514.5,138.7 514.4,139.0 513.5,138.8 512.9,138.3 512.5,139.2 511.5,139.7 511.5,139.0 510.5,140.2 510.1,140.4 509.5,142.1 508.6,143.3 508.5,142.6 507.5,141.4 507.2,141.9 506.5,141.7 505.8,140.4 505.5,140.5 504.5,142.4 504.3,141.9 503.5,143.2 502.9,144.7 502.5,144.6 501.5,142.4 501.4,141.9 500.5,140.9 499.5,140.7 498.5,139.1 498.5,138.3 497.5,138.7 496.9,138.1 496.5,138.8 495.5,140.4 495.3,141.0 494.5,143.5 493.8,143.9 493.5,144.3 492.5,146.4 492.2,145.9 491.5,147.5 490.7,147.9 490.5,147.3 489.5,147.7 489.1,147.9 488.5,146.0 487.5,142.0 487.5,141.9 486.5,140.8 486.0,140.0 485.5,139.3 484.5,138.4 484.4,139.1 483.5,137.2 482.8,137.1 482.5,136.9 481.5,137.8 481.3,138.1 480.5,137.3 479.7,136.1 479.5,135.1 478.5,134.1 478.2,133.2 477.5,136.1 477.0,137.1 476.5,138.5 475.5,143.0 475.4,143.0 474.5,147.0 473.9,148.8 473.5,150.6 472.5,153.8 472.3,154.7 471.5,157.1 470.7,157.6 470.5,157.6 469.5,157.3 469.2,157.6 468.5,158.4 467.6,158.6 467.5,158.6 466.5,158.4 466.0,158.6 465.5,159.4 464.5,160.5 464.5,160.7 463.5,161.8 462.9,162.5 462.5,162.5 461.5,163.2 461.4,162.5 460.5,162.5 459.8,163.5 459.5,162.8 458.5,164.1 458.2,164.5 457.5,163.2 456.7,162.5 456.5,162.2 455.5,162.9 455.1,162.5 454.5,163.8 453.5,167.4 453.5,166.5 452.5,163.6 452.0,162.5 451.5,161.8 450.5,161.3 450.4,160.5 449.5,161.0 448.9,160.5 448.5,161.4 447.5,166.0 447.3,167.4 446.5,171.6 445.7,174.2 445.5,173.2 444.5,170.3 444.2,170.3 443.5,169.2 442.8,166.4 442.5,165.9 441.5,165.4 441.4,164.5 440.5,170.5 439.9,175.2 439.5,174.3 438.7,170.3 438.5,170.6 437.5,167.9 437.1,166.4 436.5,163.9 435.6,162.5 435.5,161.8 434.5,159.9 434.0,158.6 433.5,158.1 432.5,156.3 432.5,156.6 431.5,154.7 430.9,152.7 430.5,152.7 429.5,149.7 429.3,149.8 428.5,150.4 427.8,151.8 427.5,151.6 426.5,150.1 426.2,148.8 425.5,146.2 424.8,143.0 424.5,141.6 423.5,138.9" fill="#0b2a3e" stroke="#0b2a3e" stroke-width="1" stroke-linejoin="round"/>
<polyline points="423.5,133.7 424.8,138.6 426.2,143.9 427.8,147.4 429.3,145.9 430.9,147.9 432.5,152.2 434.0,155.2 435.6,158.6 437.1,161.0 438.7,164.5 439.9,166.9 441.4,158.6 442.8,160.5 444.2,164.5 445.7,167.4 447.3,162.0 448.9,155.7 450.4,156.6 452.0,158.6 453.5,162.0 455.1,158.6 456.7,158.1 458.2,160.1 459.8,160.1 461.4,159.6 462.9,159.1 464.5,157.1 466.0,154.2 467.6,154.7 469.2,154.7 470.7,154.2 472.3,150.8 473.9,144.9 475.4,138.1 477.0,131.7 478.2,128.8 479.7,131.7 481.3,133.7 482.8,133.2 484.4,135.2 486.0,135.6 487.5,138.1 489.1,143.5 490.7,144.4 492.2,142.5 493.8,140.0 495.3,137.1 496.9,134.2 498.5,135.2 501.4,137.9 502.9,140.1 504.3,137.9 505.8,137.2 507.2,139.0 508.6,140.1 510.1,137.9 511.5,136.8 512.9,135.4 514.4,136.1 515.8,137.9 517.3,139.4 518.7,140.8 520.1,141.5 521.6,142.2 523.0,144.0 524.5,141.9 525.9,140.1 527.3,140.4 528.8,141.2 530.2,141.9 531.7,137.9 533.1,131.8 534.5,124.6 536.0,117.4 537.1,112.4 538.1,105.2 539.1,101.6 540.3,103.0 541.7,103.7 543.2,100.1 544.3,101.6 545.3,103.0 546.2,90.5 547.2,82.7 548.2,61.2 549.4,63.2 550.7,64.2 552.1,73.0 553.5,81.8 554.8,77.9 556.4,68.1 557.6,64.7 558.9,69.1 560.3,72.0 561.9,71.5 563.2,74.9 564.8,82.7 566.2,90.5 567.7,86.6 569.3,80.8 570.7,79.3 572.0,85.7 573.6,83.7 575.2,78.8 576.5,74.9 577.9,72.0 579.5,73.5 581.0,76.9 582.6,80.8 584.1,84.7 585.7,89.6 587.3,91.5 588.8,96.4 590.4,101.3 592.0,103.7 593.5,100.8 595.1,99.3 596.6,97.4 598.2,87.6 599.8,82.7 601.3,84.2 602.9,84.7 604.5,80.8 606.0,83.7 607.6,86.6 609.1,88.6 610.7,90.5 612.3,93.0 613.8,96.4 615.5,98.4 617.0,102.3 618.6,103.2 620.2,103.2 621.7,105.2 623.3,111.1 624.5,122.4 625.6,123.9 626.8,125.3 627.9,126.8 629.4,128.6 630.8,126.8 632.0,126.8 633.1,124.6 634.3,125.7 635.4,118.1 636.6,111.7 637.7,106.6 638.7,103.0 639.7,108.1 640.6,106.6 641.5,97.3 643.6,81.8 644.8,71.5 646.1,75.9 647.5,80.8 649.1,81.8 650.6,83.2 652.0,83.7 653.4,75.9 654.5,71.0 655.7,66.1 656.9,69.1 658.4,73.5 660.0,74.4 661.6,75.9 663.1,77.9 664.7,76.4 666.2,75.4 667.8,70.0 669.4,73.5 670.9,75.4 672.1,71.5 673.5,76.9 675.0,81.3 676.4,79.3 678.0,73.5 679.5,65.6 680.7,69.1 682.3,78.8 683.8,82.7 685.4,87.6 686.6,83.7 687.7,68.1 688.9,72.0 690.1,71.5 691.6,69.1 693.2,66.6 694.4,65.2 695.9,68.1 697.5,70.0 699.1,76.9 700.6,81.8 702.2,83.2 703.8,84.2 705.3,85.2 706.9,86.2 708.4,87.6 710.1,88.5 711.5,89.6 713.0,88.2 714.4,84.6 715.9,81.7 717.3,80.3 718.7,74.9 719.9,76.3 721.0,74.5 722.2,75.9 723.3,74.5 724.5,76.3 725.9,78.1 727.4,81.3 728.8,82.1 730.3,82.1 731.7,80.6 733.1,79.9 734.6,81.3 736.0,83.1 737.5,84.2 738.9,84.9 740.3,86.7 741.8,86.4 743.2,88.5 744.7,89.6 746.1,90.3 747.6,90.7 749.0,89.6 750.4,84.9 751.9,82.1 753.3,81.0 754.8,79.5 756.2,78.1 757.3,77.0" fill="none" stroke="#0b2a3e" stroke-width="3.0" stroke-linejoin="round" stroke-linecap="round"/>
<line x1="13.1" y1="243.9" x2="34.6" y2="243.9" stroke="#071722" stroke-width="2.2"/>
<text x="36.8" y="247.3" class="lg" textLength="46.5" lengthAdjust="spacingAndGlyphs">JPYEUR</text>
<line x1="35.9" y1="266.4" x2="367.9" y2="266.4" class="gd"/>
<text x="25.7" y="270.6" class="yl">200</text>
<line x1="35.9" y1="293.32" x2="367.9" y2="293.32" class="gd"/>
<text x="25.7" y="297.5" class="yl">180</text>
<line x1="35.9" y1="320.23" x2="367.9" y2="320.23" class="gd"/>
<text x="25.7" y="324.4" class="yl">160</text>
<line x1="35.9" y1="347.15" x2="367.9" y2="347.15" class="gd"/>
<text x="25.7" y="351.3" class="yl">140</text>
<line x1="35.9" y1="374.07" x2="367.9" y2="374.07" class="gd"/>
<text x="25.7" y="378.3" class="yl">120</text>
<line x1="35.9" y1="400.98" x2="367.9" y2="400.98" class="gd"/>
<text x="25.7" y="405.2" class="yl">100</text>
<line x1="35.9" y1="427.9" x2="367.9" y2="427.9" class="ax"/>
<text x="25.7" y="432.1" class="yl">80</text>
<text x="37.0" y="447.5" class="xl">99</text>
<text x="74.0" y="447.5" class="xl">02</text>
<text x="111.0" y="447.5" class="xl">05</text>
<text x="148.0" y="447.5" class="xl">08</text>
<text x="185.0" y="447.5" class="xl">11</text>
<text x="222.0" y="447.5" class="xl">14</text>
<text x="259.0" y="447.5" class="xl">17</text>
<text x="296.0" y="447.5" class="xl">20</text>
<text x="333.0" y="447.5" class="xl">23</text>
<polygon points="36.5,354.9 37.5,353.9 37.9,354.4 38.5,355.1 39.2,355.4 39.5,355.5 40.5,358.0 40.8,358.3 41.5,360.8 42.4,365.2 42.5,365.3 43.5,369.4 43.9,371.0 44.5,373.3 45.5,376.9 45.5,377.3 46.5,381.1 47.1,382.7 47.5,384.6 48.5,388.6 48.6,388.6 49.5,386.3 50.2,385.7 50.5,387.3 51.5,391.0 51.8,392.5 52.5,395.0 53.3,397.4 53.5,397.2 54.5,396.8 54.9,396.4 55.5,396.8 56.4,398.4 56.5,397.9 57.5,401.6 58.0,404.2 58.5,403.0 59.4,402.3 59.5,401.3 60.5,390.0 60.7,388.6 61.5,386.2 62.3,383.7 62.5,383.3 63.5,382.9 63.9,382.7 64.5,384.9 65.2,386.6 65.5,386.8 66.5,389.1 66.6,388.6 67.5,386.7 68.2,386.6 68.5,385.8 69.5,385.5 69.7,385.7 70.5,385.1 71.3,383.7 71.5,381.7 72.5,377.4 72.8,375.9 73.5,375.9 74.4,374.9 74.5,374.5 75.5,375.9 76.0,376.9 76.5,376.3 77.5,377.5 77.5,376.9 78.5,376.6 79.1,375.9 79.5,375.7 80.5,375.2 80.7,374.9 81.5,374.2 82.2,373.0 82.5,372.6 83.5,369.9 83.8,369.1 84.5,367.8 85.3,365.2 85.5,365.0 86.5,361.6 86.9,361.2 87.5,359.4 88.5,357.3 88.5,357.1 89.5,351.4 90.0,347.6 90.5,346.3 91.2,345.6 91.5,346.2 92.5,350.9 92.8,351.5 93.5,354.7 94.3,357.3 94.5,358.3 95.5,358.6 95.9,359.3 96.5,357.0 97.5,353.4 97.5,353.7 98.5,351.4 99.0,349.5 99.5,349.8 100.5,349.8 100.6,349.5 101.5,353.2 101.8,353.4 102.5,353.0 103.3,353.4 103.5,353.6 104.5,353.0 104.9,352.5 105.5,352.8 106.4,351.5 106.5,351.9 107.5,350.5 108.0,349.5 108.5,348.5 109.5,347.8 109.6,348.6 110.5,346.0 111.1,345.6 111.5,346.3 112.5,347.1 112.7,347.6 113.5,348.5 114.2,349.5 114.5,349.4 115.5,350.9 115.8,351.5 116.5,350.8 117.4,349.5 117.5,349.5 118.5,347.8 118.9,347.6 119.5,347.4 120.5,345.6 120.5,346.0 121.5,344.3 122.1,342.7 122.5,341.7 123.5,340.4 123.6,340.7 124.5,340.4 125.2,340.7 125.5,340.4 126.5,339.9 126.8,338.8 127.5,337.3 128.3,335.9 128.5,335.6 129.5,334.1 129.9,333.9 130.5,332.7 131.4,332.0 131.5,332.3 132.5,328.6 132.7,329.1 133.5,327.9 134.2,325.2 134.5,324.1 135.5,322.4 135.8,321.2 136.5,321.1 137.4,319.3 137.5,318.0 138.5,315.4 138.9,313.4 139.5,311.1 140.5,308.6 140.5,308.2 141.5,307.4 141.7,307.6 142.5,308.6 142.8,309.5 143.5,309.9 144.0,309.5 144.5,310.0 145.5,309.1 145.6,309.5 146.5,310.0 147.1,311.5 147.5,312.9 148.5,314.4 148.7,315.4 149.5,316.3 149.9,317.3 150.5,315.3 151.4,311.5 151.5,310.9 152.5,309.6 152.6,309.5 153.5,307.8 153.8,306.6 154.5,307.8 155.0,307.6 155.5,310.6 156.1,315.4 156.5,318.3 157.3,325.2 157.5,328.8 158.5,346.6 158.5,347.3 159.5,360.2 159.6,362.3 160.5,363.0 160.8,362.3 161.5,357.8 162.2,354.5 162.5,353.9 163.5,351.1 163.5,350.5 164.5,349.8 165.1,349.6 165.5,350.0 166.5,348.7 166.7,348.6 167.5,349.4 168.2,348.6 168.5,349.0 169.5,348.2 169.8,348.6 170.5,349.0 171.4,350.5 171.5,351.3 172.5,354.7 172.9,356.4 173.5,357.8 174.5,361.3 175.0,363.2 175.5,366.8 176.5,372.7 176.6,373.0 177.5,377.7 178.1,380.8 178.5,380.8 179.5,382.7 179.7,382.7 180.5,380.5 181.2,379.8 181.5,379.5 182.5,380.1 182.8,380.8 183.5,382.3 184.4,382.7 184.5,382.5 185.5,381.7 185.9,380.8 186.5,376.2 187.5,370.0 187.5,371.0 188.5,371.3 189.1,373.0 189.5,374.2 190.5,377.0 190.6,377.9 191.5,379.3 192.2,381.8 192.5,382.1 193.5,385.5 193.8,386.6 194.5,387.8 195.3,390.5 195.5,390.1 196.5,391.5 196.9,392.5 197.5,390.1 198.4,388.6 198.5,388.0 199.5,385.7 200.0,385.7 200.5,387.4 201.5,392.9 201.6,392.5 202.5,395.9 203.1,398.4 203.5,398.5 204.3,398.4 204.5,399.0 205.5,397.7 205.9,396.4 206.5,394.1 207.4,390.5 207.5,390.4 208.5,383.2 209.0,378.8 209.5,373.4 210.5,364.7 210.5,365.2 211.5,363.3 212.1,361.2 212.5,360.6 213.5,357.0 213.7,357.3 214.5,357.9 215.2,357.3 215.5,357.9 216.5,354.9 216.8,355.4 217.5,355.8 218.4,355.4 218.5,355.2 219.5,351.8 219.9,351.5 220.5,346.2 221.5,339.8 221.5,340.0 222.5,341.8 223.0,341.7 223.5,342.2 224.5,343.9 224.6,343.7 225.5,345.2 226.2,345.6 226.5,346.6 227.5,348.0 227.7,347.6 228.5,347.4 229.3,348.6 229.5,347.6 230.5,346.7 230.9,345.6 231.5,341.0 232.4,334.9 232.5,336.2 233.5,340.0 233.6,339.8 234.5,343.8 235.2,347.6 235.5,348.1 236.5,350.2 236.7,351.5 237.5,350.1 238.3,347.6 238.5,347.8 239.5,347.1 239.8,347.6 240.5,348.2 241.4,349.5 241.5,350.1 242.5,350.6 243.0,351.5 243.5,351.4 244.5,352.9 244.5,353.4 245.5,354.8 246.1,355.4 246.5,356.6 247.5,357.9 247.7,358.3 248.5,361.7 249.2,363.2 249.5,364.1 250.5,368.3 250.8,369.1 251.5,372.7 252.3,374.9 252.5,374.5 253.5,378.1 253.9,378.8 254.5,378.0 255.5,376.9 255.5,377.6 256.5,373.5 257.0,371.0 257.5,370.4 258.5,369.4 258.6,369.1 259.5,369.7 260.2,371.0 260.5,370.6 261.5,371.5 261.7,371.0 262.5,369.9 263.3,367.1 263.5,365.6 264.5,360.8 264.8,359.3 265.5,357.8 266.4,357.3 266.5,356.3 267.5,355.3 268.0,355.4 268.5,355.6 269.5,354.4 269.5,354.4 270.5,352.6 271.1,351.5 271.5,352.0 272.5,353.5 272.7,353.4 273.5,355.2 274.2,357.3 274.5,356.6 275.2,357.2 275.5,356.8 276.2,358.4 276.5,358.9 277.2,358.4 277.5,358.5 278.1,357.8 278.5,356.6 279.1,356.5 279.5,357.4 280.1,356.5 280.5,358.2 281.1,359.6 281.5,360.2 282.1,361.5 282.5,361.6 283.1,363.3 283.5,364.1 284.1,364.0 284.5,364.8 285.1,364.6 285.5,365.7 286.0,365.2 286.5,366.6 287.0,367.0 287.5,368.1 288.0,369.5 288.5,370.7 289.0,370.7 289.5,370.8 290.0,372.6 290.5,373.2 291.0,374.4 291.5,374.3 292.0,375.7 292.5,373.1 293.0,372.0 293.5,370.9 294.0,370.7 294.5,370.8 294.9,370.1 295.5,370.4 295.9,369.5 296.5,370.9 296.9,370.7 297.5,372.0 297.9,372.6 298.5,375.3 298.9,375.7 299.5,376.9 299.6,376.9 300.5,375.1 300.6,374.4 301.5,371.2 301.6,370.7 302.5,366.8 302.6,367.0 303.5,366.0 303.6,365.8 304.5,365.8 304.6,365.8 305.5,366.5 305.6,367.0 306.5,364.4 306.5,364.6 307.5,364.2 307.5,363.3 308.5,361.7 308.5,362.1 309.5,359.6 309.5,360.5 310.5,358.4 310.5,358.1 311.5,357.2 311.5,356.5 312.5,354.7 312.5,354.0 313.5,355.9 313.5,355.2 314.4,357.2 314.5,357.0 315.4,358.4 315.5,357.9 316.4,358.4 316.5,359.1 317.4,356.5 317.5,356.8 318.4,356.5 318.5,356.8 319.4,357.8 319.5,358.4 320.4,358.4 320.5,358.2 321.4,359.0 321.5,359.2 322.3,359.6 322.5,358.5 323.3,353.5 323.5,351.2 324.5,344.8 324.7,343.4 325.5,343.0 326.2,341.4 326.5,341.6 327.5,340.0 327.8,340.4 328.5,338.9 329.4,337.5 329.5,337.9 330.5,336.6 330.9,336.5 331.5,336.5 332.5,338.5 332.5,338.3 333.5,341.1 334.1,341.4 334.5,339.5 335.5,338.1 335.6,337.5 336.5,332.7 337.2,329.7 337.5,327.3 338.5,322.5 338.8,321.9 339.5,321.1 340.3,320.9 340.5,320.6 341.5,318.6 341.9,318.9 342.5,317.9 343.4,315.0 343.5,314.5 344.5,316.5 345.0,316.0 345.5,314.5 346.5,313.8 346.6,314.1 347.5,312.4 348.1,310.2 348.5,308.7 349.5,305.4 349.7,305.3 350.5,302.7 351.2,299.4 351.5,300.3 352.4,304.3 352.5,305.1 353.5,310.9 353.6,312.1 354.5,312.1 355.2,312.1 355.5,313.4 356.5,313.7 356.7,314.1 357.5,315.2 358.3,315.0 358.5,314.9 359.5,315.0 359.8,314.1 360.5,311.7 361.4,310.2 361.5,310.5 362.5,305.8 363.0,304.3 363.5,303.0 364.5,301.7 364.5,301.4 365.5,299.4 366.1,298.4 366.5,296.2 367.3,294.5 367.3,303.3 366.5,304.7 366.1,306.2 365.5,307.9 364.5,309.2 364.5,309.4 363.5,311.7 363.0,314.1 362.5,315.9 361.5,319.8 361.4,319.9 360.5,320.9 359.8,321.9 359.5,322.8 358.5,326.8 358.3,326.8 357.5,325.9 356.7,323.8 356.5,323.4 355.5,325.3 355.2,325.8 354.5,326.4 353.6,326.8 353.5,325.8 352.5,319.7 352.4,319.9 351.5,312.9 351.2,310.2 350.5,312.6 349.7,314.1 349.5,314.2 348.5,317.9 348.1,318.9 347.5,319.4 346.6,321.9 346.5,322.2 345.5,323.3 345.0,322.9 344.5,323.1 343.5,324.5 343.4,323.8 342.5,325.8 341.9,326.8 341.5,327.1 340.5,328.0 340.3,328.7 339.5,330.4 338.8,331.6 338.5,333.5 337.5,338.6 337.2,339.5 336.5,342.0 335.6,345.3 335.5,346.0 334.5,347.3 334.1,348.2 333.5,346.9 332.5,347.2 332.5,346.3 331.5,346.4 330.9,345.3 330.5,346.1 329.5,346.9 329.4,347.3 328.5,349.6 327.8,351.2 327.5,351.6 326.5,355.2 326.2,355.1 325.5,354.6 324.7,353.1 324.5,354.7 323.5,360.2 323.3,360.9 322.5,366.4 322.3,367.0 321.5,365.7 321.4,364.6 320.5,363.4 320.4,364.0 319.5,363.5 319.4,363.3 318.5,362.3 318.4,362.1 317.5,360.9 317.4,361.5 316.5,361.9 316.4,362.7 315.5,363.3 315.4,362.7 314.5,362.2 314.4,362.1 313.5,360.7 313.5,360.9 312.5,360.4 312.5,359.6 311.5,361.9 311.5,362.1 310.5,364.0 310.5,363.3 309.5,365.0 309.5,364.6 308.5,367.0 308.5,366.3 307.5,368.3 307.5,368.8 306.5,369.5 306.5,369.4 305.6,372.6 305.5,373.2 304.6,370.7 304.5,370.0 303.6,372.0 303.5,371.5 302.6,373.2 302.5,373.9 301.6,376.9 301.5,376.4 300.6,379.4 300.5,380.6 299.6,383.1 299.5,382.2 298.9,381.9 298.5,380.8 297.9,379.4 297.5,378.0 296.9,376.9 296.5,375.9 295.9,375.1 295.5,375.0 294.9,375.7 294.5,375.1 294.0,376.3 293.5,377.0 293.0,378.1 292.5,379.1 292.0,380.6 291.5,379.6 291.0,379.4 290.5,379.4 290.0,378.8 289.5,377.8 289.0,376.9 288.5,377.1 288.0,375.7 287.5,374.2 287.0,373.2 286.5,372.4 286.0,370.7 285.5,369.2 285.1,369.5 284.5,369.9 284.1,369.5 283.5,369.4 283.1,370.7 282.5,370.1 282.1,368.3 281.5,366.1 281.1,365.2 280.5,364.0 280.1,362.7 279.5,362.4 279.1,362.1 278.5,362.2 278.1,363.3 277.5,365.0 277.2,365.8 276.5,367.0 276.2,367.0 275.5,365.9 275.2,364.6 274.5,365.4 274.2,365.2 273.5,363.0 272.7,361.2 272.5,360.3 271.5,360.3 271.1,359.3 270.5,360.5 269.5,362.2 269.5,362.4 268.5,363.5 268.0,363.2 267.5,364.6 266.5,364.2 266.4,365.2 265.5,367.0 264.8,369.1 264.5,370.4 263.5,374.9 263.3,374.9 262.5,377.7 261.7,380.8 261.5,381.0 260.5,380.0 260.2,378.8 259.5,377.6 258.6,376.9 258.5,377.7 257.5,380.2 257.0,380.8 256.5,381.6 255.5,383.3 255.5,383.7 254.5,384.0 253.9,385.7 253.5,385.0 252.5,386.0 252.3,386.6 251.5,382.3 250.8,378.8 250.5,378.3 249.5,374.1 249.2,373.0 248.5,372.1 247.7,369.1 247.5,368.2 246.5,365.3 246.1,365.2 245.5,364.9 244.5,363.2 244.5,364.0 243.5,362.2 243.0,361.2 242.5,360.3 241.5,358.6 241.4,359.3 240.5,357.5 239.8,357.3 239.5,357.7 238.5,357.7 238.3,357.3 237.5,361.6 236.7,365.2 236.5,364.2 235.5,359.7 235.2,357.3 234.5,355.5 233.6,353.4 233.5,353.6 232.5,350.3 232.4,349.5 231.5,351.5 230.9,353.4 230.5,354.7 229.5,354.8 229.3,355.4 228.5,353.9 227.7,353.4 227.5,353.2 226.5,353.6 226.2,352.5 225.5,352.4 224.6,351.5 224.5,351.8 223.5,352.0 223.0,351.5 222.5,352.3 221.5,350.8 221.5,351.5 220.5,357.1 219.9,359.3 219.5,361.0 218.5,362.5 218.4,363.2 217.5,362.6 216.8,363.2 216.5,363.8 215.5,364.7 215.2,365.2 214.5,367.6 213.7,369.1 213.5,369.7 212.5,371.7 212.1,373.0 211.5,374.2 210.5,376.9 210.5,378.0 209.5,386.9 209.0,392.5 208.5,395.0 207.5,400.6 207.4,400.3 206.5,403.7 205.9,406.2 205.5,406.1 204.5,409.3 204.3,409.1 203.5,409.2 203.1,408.1 202.5,406.0 201.6,404.2 201.5,404.0 200.5,398.2 200.0,396.4 199.5,397.0 198.5,398.4 198.4,398.4 197.5,402.2 196.9,404.2 196.5,403.4 195.5,401.8 195.3,401.3 194.5,398.2 193.8,396.4 193.5,396.3 192.5,392.4 192.2,390.5 191.5,389.1 190.6,386.6 190.5,387.2 189.5,384.0 189.1,382.7 188.5,382.6 187.5,380.9 187.5,380.8 186.5,386.1 185.9,390.5 185.5,391.3 184.5,391.7 184.4,392.5 183.5,390.7 182.8,388.6 182.5,388.8 181.5,389.5 181.2,390.5 180.5,392.1 179.7,393.5 179.5,393.0 178.5,392.6 178.1,392.5 177.5,390.4 176.6,388.6 176.5,388.5 175.5,379.9 175.0,376.9 174.5,374.2 173.5,369.7 172.9,368.1 172.5,366.6 171.5,363.0 171.4,362.3 170.5,360.4 169.8,358.4 169.5,359.1 168.5,358.4 168.2,358.4 167.5,358.1 166.7,358.4 166.5,359.4 165.5,359.1 165.1,360.3 164.5,360.9 163.5,362.3 163.5,361.9 162.5,367.2 162.2,368.1 161.5,370.9 160.8,374.0 160.5,376.2 159.6,379.8 159.5,380.5 158.5,379.4 158.5,379.8 157.5,360.5 157.3,356.4 156.5,336.4 156.1,327.1 155.5,322.2 155.0,317.3 154.5,317.3 153.8,315.4 153.5,317.0 152.6,319.3 152.5,320.5 151.5,323.3 151.4,323.2 150.5,328.1 149.9,331.0 149.5,331.1 148.7,331.0 148.5,331.3 147.5,329.0 147.1,329.1 146.5,328.1 145.6,325.2 145.5,324.5 144.5,322.5 144.0,321.2 143.5,325.8 142.8,331.0 142.5,327.4 141.7,319.3 141.5,319.0 140.5,321.1 140.5,321.2 139.5,323.8 138.9,325.2 138.5,326.6 137.5,333.0 137.4,333.0 136.5,331.6 135.8,331.0 135.5,332.0 134.5,333.0 134.2,333.9 133.5,335.9 132.7,336.9 132.5,336.4 131.5,339.2 131.4,338.8 130.5,341.3 129.9,341.7 129.5,342.2 128.5,343.6 128.3,343.7 127.5,344.7 126.8,346.6 126.5,346.3 125.5,348.9 125.2,348.6 124.5,349.7 123.6,349.5 123.5,349.2 122.5,351.3 122.1,351.5 121.5,352.1 120.5,352.9 120.5,353.4 119.5,353.9 118.9,355.4 118.5,355.2 117.5,356.6 117.4,357.3 116.5,358.2 115.8,360.3 115.5,360.4 114.5,357.8 114.2,358.3 113.5,357.4 112.7,355.4 112.5,356.2 111.5,354.3 111.1,354.4 110.5,355.7 109.6,356.4 109.5,356.6 108.5,356.7 108.0,357.3 107.5,357.5 106.5,357.7 106.4,358.3 105.5,358.3 104.9,359.3 104.5,360.5 103.5,361.6 103.3,361.2 102.5,363.5 101.8,367.1 101.5,364.8 100.6,359.3 100.5,359.4 99.5,360.2 99.0,361.2 98.5,362.4 97.5,365.1 97.5,365.2 96.5,366.8 95.9,368.1 95.5,368.5 94.5,367.9 94.3,367.1 93.5,364.8 92.8,363.2 92.5,362.1 91.5,357.1 91.2,355.4 90.5,358.1 90.0,359.3 89.5,361.8 88.5,365.6 88.5,365.2 87.5,366.7 86.9,369.1 86.5,369.4 85.5,373.4 85.3,373.0 84.5,374.4 83.8,376.9 83.5,377.2 82.5,378.7 82.2,379.8 81.5,381.3 80.7,381.8 80.5,381.2 79.5,381.4 79.1,381.8 78.5,382.2 77.5,382.7 77.5,382.2 76.5,382.6 76.0,383.7 75.5,383.9 74.5,384.8 74.4,384.7 73.5,385.0 72.8,386.6 72.5,388.4 71.5,390.8 71.3,392.5 70.5,392.9 69.7,393.5 69.5,393.8 68.5,396.2 68.2,396.4 67.5,397.3 66.6,400.3 66.5,399.8 65.5,395.3 65.2,394.5 64.5,392.3 63.9,390.5 63.5,391.2 62.5,391.4 62.3,392.5 61.5,399.0 60.7,404.2 60.5,406.9 59.5,415.1 59.4,415.9 58.5,415.4 58.0,415.0 57.5,413.5 56.5,410.1 56.4,410.1 55.5,407.4 54.9,404.2 54.5,405.2 53.5,406.4 53.3,406.2 52.5,404.5 51.8,402.3 51.5,400.7 50.5,396.8 50.2,396.4 49.5,397.4 48.6,398.4 48.5,398.7 47.5,395.5 47.1,394.5 46.5,391.9 45.5,388.9 45.5,388.6 44.5,384.4 43.9,382.7 43.5,380.2 42.5,376.3 42.4,374.9 41.5,372.3 40.8,369.1 40.5,368.2 39.5,365.3 39.2,365.2 38.5,363.7 37.9,364.2 37.5,365.4 36.5,366.4" fill="#0b2a3e" stroke="#0b2a3e" stroke-width="1" stroke-linejoin="round"/>
<polyline points="36.5,361.2 37.9,359.3 39.2,360.3 40.8,363.7 42.4,370.0 43.9,376.9 45.5,382.7 47.1,388.6 48.6,393.5 50.2,391.0 51.8,397.4 53.3,401.8 54.9,400.3 56.4,404.2 58.0,409.6 59.4,409.1 60.7,396.4 62.3,388.1 63.9,386.6 65.2,390.5 66.6,394.5 68.2,391.5 69.7,389.6 71.3,388.1 72.8,381.3 74.4,379.8 76.0,380.3 77.5,379.8 79.1,378.8 80.7,378.3 82.2,376.4 83.8,373.0 85.3,369.1 86.9,365.2 88.5,361.2 90.0,353.4 91.2,350.5 92.8,357.3 94.3,362.2 95.9,363.7 97.5,359.3 99.0,355.4 100.6,354.4 101.8,360.3 103.3,357.3 104.9,355.9 106.4,354.9 108.0,353.4 109.6,352.5 111.1,350.0 112.7,351.5 114.2,353.9 115.8,355.9 117.4,353.4 118.9,351.5 120.5,349.5 122.1,347.1 123.6,345.1 125.2,344.6 126.8,342.7 128.3,339.8 129.9,337.8 131.4,335.4 132.7,333.0 134.2,329.6 135.8,326.1 137.4,326.1 138.9,319.3 140.5,314.9 141.7,313.4 142.8,320.3 144.0,315.4 145.6,317.3 147.1,320.3 148.7,323.2 149.9,324.2 151.4,317.3 152.6,314.4 153.8,311.0 155.0,312.5 156.1,321.2 157.3,340.8 158.5,363.2 159.6,371.1 160.8,368.1 162.2,361.3 163.5,356.4 165.1,354.9 166.7,353.5 168.2,353.5 169.8,353.5 171.4,356.4 172.9,362.3 175.0,370.0 176.6,380.8 178.1,386.6 179.7,388.1 181.2,385.2 182.8,384.7 184.4,387.6 185.9,385.7 187.5,375.4 189.1,377.9 190.6,382.2 192.2,386.2 193.8,391.5 195.3,395.9 196.9,398.4 198.4,393.5 200.0,391.0 201.6,398.4 203.1,403.2 204.3,403.7 205.9,401.3 207.4,395.4 209.0,385.7 210.5,371.0 212.1,367.1 213.7,363.2 215.2,361.2 216.8,359.3 218.4,359.3 219.9,355.4 221.5,345.6 223.0,346.6 224.6,347.6 226.2,349.0 227.7,350.5 229.3,352.0 230.9,349.5 232.4,342.2 233.6,346.6 235.2,352.5 236.7,358.3 238.3,352.5 239.8,352.5 241.4,354.4 243.0,356.4 244.5,358.3 246.1,360.3 247.7,363.7 249.2,368.1 250.8,373.9 252.3,380.8 253.9,382.2 255.5,380.3 257.0,375.9 258.6,373.0 260.2,374.9 261.7,375.9 263.3,371.0 264.8,364.2 266.4,361.2 268.0,359.3 269.5,358.3 271.1,355.4 272.7,357.3 274.2,361.2 275.2,360.9 276.2,362.7 277.2,362.1 278.1,360.6 279.1,359.3 280.1,359.6 281.1,362.4 282.1,364.9 283.1,367.0 284.1,366.7 285.1,367.0 286.0,368.0 287.0,370.1 288.0,372.6 289.0,373.8 290.0,375.7 291.0,376.9 292.0,378.1 293.0,375.1 294.0,373.5 294.9,372.9 295.9,372.3 296.9,373.8 297.9,376.0 298.9,378.8 299.6,380.0 300.6,376.9 301.6,373.8 302.6,370.1 303.6,368.9 304.6,368.3 305.6,369.8 306.5,367.0 307.5,365.8 308.5,364.6 309.5,362.1 310.5,360.9 311.5,359.6 312.5,357.2 313.5,358.4 314.4,359.6 315.4,360.6 316.4,360.6 317.4,359.0 318.4,359.3 319.4,360.6 320.4,361.2 321.4,361.8 322.3,363.3 323.3,357.2 324.7,348.2 326.2,348.2 327.8,345.8 329.4,342.4 330.9,340.9 332.5,342.4 334.1,344.8 335.6,341.4 337.2,334.6 338.8,326.8 340.3,324.8 341.9,322.9 343.4,319.4 345.0,319.4 346.6,318.0 348.1,314.6 349.7,309.7 351.2,304.8 352.4,312.1 353.6,319.4 355.2,318.9 356.7,318.9 358.3,320.9 359.8,318.0 361.4,315.0 363.0,309.2 364.5,305.3 366.1,302.3 367.3,298.9" fill="none" stroke="#0b2a3e" stroke-width="3.0" stroke-linejoin="round" stroke-linecap="round"/>
<line x1="402" y1="243.9" x2="423" y2="243.9" stroke="#071722" stroke-width="2.2"/>
<text x="425.0" y="247.9" class="lg" textLength="27.5" lengthAdjust="spacingAndGlyphs">NOK</text>
<line x1="429.5" y1="267.2" x2="757.8" y2="267.2" class="gd"/>
<text x="418.0" y="271.4" class="yl">13,0</text>
<line x1="429.5" y1="294.02" x2="757.8" y2="294.02" class="gd"/>
<text x="418.0" y="298.2" class="yl">12,0</text>
<line x1="429.5" y1="320.83" x2="757.8" y2="320.83" class="gd"/>
<text x="418.0" y="325.0" class="yl">11,0</text>
<line x1="429.5" y1="347.65" x2="757.8" y2="347.65" class="gd"/>
<text x="418.0" y="351.8" class="yl">10,0</text>
<line x1="429.5" y1="374.47" x2="757.8" y2="374.47" class="gd"/>
<text x="418.0" y="378.7" class="yl">9,0</text>
<line x1="429.5" y1="401.28" x2="757.8" y2="401.28" class="gd"/>
<text x="418.0" y="405.5" class="yl">8,0</text>
<line x1="429.5" y1="428.1" x2="757.8" y2="428.1" class="ax"/>
<text x="418.0" y="432.3" class="yl">7,0</text>
<text x="430.0" y="448.0" class="xl">99</text>
<text x="466.7" y="448.0" class="xl">02</text>
<text x="503.4" y="448.0" class="xl">05</text>
<text x="540.1" y="448.0" class="xl">08</text>
<text x="576.8" y="448.0" class="xl">11</text>
<text x="613.5" y="448.0" class="xl">14</text>
<text x="650.2" y="448.0" class="xl">17</text>
<text x="686.9" y="448.0" class="xl">20</text>
<text x="723.6" y="448.0" class="xl">23</text>
<polygon points="429.9,377.4 430.9,379.9 431.3,380.8 431.9,383.0 432.6,386.6 432.9,388.1 433.9,390.0 434.2,390.5 434.9,391.1 435.8,392.5 435.9,391.9 436.9,391.2 437.3,390.5 437.9,390.7 438.9,391.5 438.9,390.7 439.9,392.3 440.5,392.5 440.9,392.2 441.9,393.6 442.0,393.5 442.9,393.2 443.6,394.5 443.9,395.2 444.9,393.8 445.1,394.5 445.9,392.3 446.7,391.5 446.9,392.4 447.9,393.2 448.3,393.5 448.9,394.7 449.8,395.4 449.9,395.4 450.9,396.6 451.4,397.4 451.9,396.4 452.9,395.9 453.0,396.4 453.9,393.6 454.5,392.5 454.9,393.6 455.9,392.6 456.1,393.5 456.9,394.3 457.6,395.4 457.9,396.1 458.9,398.6 459.2,398.4 459.9,397.8 460.8,397.4 460.9,398.0 461.9,395.9 462.3,396.4 462.9,396.9 463.9,397.4 463.9,396.6 464.9,398.5 465.5,399.3 465.9,400.2 466.9,402.0 467.0,401.3 467.9,403.9 468.6,405.2 468.9,406.3 469.9,406.8 470.1,408.1 470.9,408.7 471.7,411.1 471.9,410.4 472.9,412.4 473.3,413.0 473.9,414.1 474.8,414.0 474.9,413.7 475.9,414.8 476.4,414.0 476.9,414.4 477.9,415.3 478.0,415.0 478.9,413.1 479.5,411.1 479.9,409.7 480.9,402.4 481.1,402.3 481.9,401.3 482.6,399.3 482.9,398.0 483.9,393.8 484.2,392.5 484.9,391.0 485.8,390.5 485.9,391.2 486.9,391.4 487.3,391.5 487.9,392.4 488.9,392.5 488.9,392.4 489.9,388.4 490.5,386.6 490.9,384.3 491.9,377.9 492.0,377.9 492.9,377.3 493.2,376.9 493.9,380.9 494.4,384.7 494.9,386.4 495.9,389.2 495.9,388.6 496.9,386.9 497.5,386.6 497.9,387.8 498.9,388.9 499.0,388.6 499.9,391.4 500.6,392.5 500.9,392.0 501.9,393.1 502.2,392.5 502.9,391.2 503.7,388.6 503.9,388.8 504.9,390.8 505.3,392.5 505.9,393.7 506.9,396.4 506.9,397.2 507.9,398.3 508.4,400.3 508.9,400.6 509.9,402.8 510.0,402.3 510.9,403.5 511.5,403.2 511.9,403.5 512.9,403.4 513.1,404.2 513.9,401.8 514.7,400.3 514.9,399.7 515.9,398.8 516.2,397.4 516.9,398.9 517.8,400.3 517.9,400.0 518.9,402.0 519.4,403.2 519.9,402.3 520.9,401.8 520.9,401.3 521.9,399.1 522.5,396.4 522.9,393.7 523.9,389.5 524.0,388.6 524.9,387.5 525.6,386.6 525.9,387.8 526.2,388.6 526.9,389.0 527.8,391.5 527.9,391.1 528.9,393.7 529.4,394.5 529.9,394.9 530.9,394.7 530.9,395.4 531.9,396.5 532.5,396.4 532.9,397.5 533.9,397.3 534.1,398.4 534.9,399.1 535.6,400.3 535.9,400.0 536.9,401.3 537.2,401.3 537.9,399.2 538.8,398.4 538.9,397.9 539.9,397.0 540.3,397.4 540.9,397.6 541.9,397.4 541.9,398.0 542.9,397.9 543.4,397.4 543.9,398.6 544.9,398.0 545.0,398.4 545.9,397.5 546.6,398.4 546.9,398.2 547.9,396.2 548.1,396.4 548.9,389.6 549.3,386.6 549.9,377.2 550.5,367.1 550.9,357.0 551.2,347.6 551.9,347.0 552.0,346.6 552.8,357.3 552.9,358.5 553.9,367.8 554.0,369.1 554.9,374.1 555.2,374.9 555.9,375.9 556.3,376.9 556.9,373.5 557.5,371.0 557.9,370.0 558.7,370.0 558.9,370.1 559.8,374.9 559.9,374.4 560.9,380.0 561.0,380.8 561.9,384.8 562.6,386.6 562.9,387.9 563.9,390.5 564.1,390.5 564.9,393.4 565.7,396.4 565.9,397.4 566.9,398.8 567.3,398.4 567.9,397.6 568.8,397.4 568.9,396.8 569.9,397.0 570.4,396.4 570.9,396.0 571.9,397.3 572.0,397.4 572.9,397.6 573.5,397.4 573.9,397.9 574.9,397.0 575.1,396.4 575.9,398.6 576.6,400.3 576.9,400.9 577.9,402.3 578.2,402.3 578.9,402.7 579.8,403.2 579.9,403.5 580.9,403.7 581.3,403.2 581.9,404.2 582.9,404.2 582.9,403.5 583.9,404.5 584.5,405.2 584.9,404.9 585.9,405.9 586.0,405.2 586.9,405.0 587.6,406.2 587.9,406.7 588.9,407.6 589.1,408.1 589.9,408.9 590.7,410.1 590.9,409.6 591.9,410.8 592.3,412.0 592.9,412.8 593.8,413.0 593.9,413.6 594.9,414.1 595.4,414.0 595.9,414.6 596.9,415.1 597.0,415.0 597.9,414.9 598.5,415.0 598.9,414.7 599.9,414.2 600.1,414.0 600.9,413.0 601.6,413.0 601.9,413.6 602.9,411.7 603.2,411.1 603.9,410.1 604.8,407.1 604.9,406.8 605.9,404.0 606.3,402.3 606.9,401.2 607.9,397.4 607.9,397.1 608.9,397.5 609.5,396.4 609.9,394.0 610.9,390.1 611.0,390.5 611.9,388.0 612.6,386.6 612.9,386.3 613.9,386.8 614.1,387.6 614.9,389.3 615.7,389.6 615.9,390.1 616.9,391.5 617.3,392.5 617.9,391.7 618.8,391.5 618.9,391.0 619.9,391.4 620.9,389.8 620.9,389.5 621.9,387.6 622.4,385.9 622.9,382.2 623.8,376.2 623.9,375.5 624.9,367.2 625.2,365.4 625.9,370.7 626.3,374.2 626.9,374.8 627.5,376.2 627.9,377.2 628.7,378.1 628.9,378.0 629.8,374.2 629.9,374.5 630.9,369.9 631.4,368.4 631.9,367.1 632.9,363.6 633.0,362.5 633.9,360.0 634.5,357.6 634.9,358.5 635.9,357.8 636.1,358.6 636.9,357.0 637.7,354.7 637.9,354.7 638.9,354.6 639.2,355.7 639.9,358.2 640.8,360.5 640.9,361.4 641.9,362.5 642.3,362.5 642.9,362.9 643.9,361.3 643.9,361.5 644.9,363.8 645.5,364.5 645.9,365.3 646.9,370.0 647.0,370.3 647.9,370.8 648.6,372.3 648.9,372.2 649.9,371.4 650.2,372.3 650.9,373.9 651.7,374.2 651.9,373.6 652.9,367.6 653.3,366.4 653.9,363.1 654.8,358.6 654.9,357.9 655.9,359.3 656.4,360.5 656.9,361.6 657.9,362.8 658.0,362.5 658.9,359.3 659.5,356.6 659.9,354.6 660.9,349.2 661.1,348.8 661.9,347.6 662.3,347.9 662.9,350.8 663.8,354.7 663.9,353.9 664.9,355.3 665.4,356.6 665.9,357.6 666.9,357.6 667.0,357.6 667.9,356.2 668.5,356.6 668.9,355.2 669.9,353.3 670.1,352.7 670.9,353.0 671.6,353.7 671.9,353.5 672.9,351.2 673.2,349.8 673.9,348.3 674.4,346.9 674.9,349.6 675.9,353.5 675.9,352.7 676.9,352.7 677.5,352.7 677.9,353.5 678.9,353.2 679.1,353.7 679.9,353.4 680.6,351.8 680.9,351.6 681.9,347.0 682.2,346.9 682.9,344.5 683.8,341.0 683.9,340.5 684.9,342.0 685.3,343.0 685.9,343.9 686.9,344.9 686.9,343.9 687.9,303.8 688.0,300.0 688.5,279.3 688.9,278.8 689.9,279.7 690.0,279.3 690.7,298.0 690.9,304.3 691.6,323.4 691.9,324.2 692.7,327.3 692.9,327.5 693.9,325.7 694.3,325.4 694.9,321.7 695.9,315.6 695.9,316.4 696.9,317.4 697.0,317.6 697.9,322.6 698.6,327.3 698.9,327.9 699.9,331.5 700.2,333.2 700.9,336.7 701.7,339.1 701.9,339.2 702.9,340.7 703.3,341.0 703.9,338.5 704.8,333.2 704.9,332.7 705.9,331.2 706.0,330.3 706.9,335.6 707.2,337.1 707.9,340.7 708.8,344.9 708.9,344.0 709.9,338.8 710.3,337.1 710.9,339.6 711.9,344.9 711.9,345.5 712.9,350.2 713.4,352.7 713.9,348.0 714.8,340.4 714.9,340.0 715.9,336.1 716.3,334.8 716.9,333.8 717.8,333.0 717.9,333.6 718.9,334.8 719.3,334.8 719.9,331.6 720.4,329.3 720.9,329.5 721.9,329.3 721.9,329.8 722.9,325.8 723.3,325.6 723.9,322.2 724.8,316.3 724.9,315.3 725.9,307.2 725.9,307.0 726.9,299.2 727.0,297.8 727.9,294.2 728.1,293.1 728.9,295.6 729.3,295.9 729.9,298.8 730.4,302.4 730.9,301.5 731.5,301.5 731.9,300.4 732.6,297.8 732.9,295.9 733.7,294.1 733.9,293.9 734.8,297.8 734.9,298.5 735.9,300.8 736.3,301.5 736.9,302.2 737.8,301.5 737.9,301.0 738.9,298.7 739.3,297.8 739.9,297.4 740.7,295.9 740.9,294.7 741.9,293.0 742.2,292.2 742.9,294.8 743.7,295.9 743.9,296.3 744.9,296.5 745.2,297.8 745.9,298.1 746.7,296.9 746.9,296.5 747.9,298.3 748.1,297.8 748.9,298.8 749.6,299.6 749.9,297.8 750.7,290.4 750.9,290.7 751.9,294.6 752.2,295.9 752.9,297.3 753.7,297.8 753.9,297.9 754.9,295.1 755.2,294.1 755.9,297.7 756.7,299.6 756.7,308.9 755.9,307.3 755.2,307.0 754.9,308.5 753.9,309.6 753.7,310.7 752.9,310.8 752.2,310.7 751.9,311.7 750.9,313.2 750.7,313.5 749.9,312.0 749.6,312.6 748.9,310.1 748.1,308.9 747.9,308.9 746.9,307.4 746.7,307.0 745.9,308.6 745.2,308.9 744.9,308.3 743.9,307.8 743.7,307.0 742.9,305.5 742.2,303.3 741.9,303.7 740.9,306.8 740.7,307.0 739.9,307.8 739.3,308.9 738.9,309.3 737.9,312.1 737.8,312.6 736.9,314.1 736.3,316.3 735.9,314.9 734.9,314.0 734.8,314.4 733.9,308.1 733.7,307.0 732.9,309.9 732.6,310.7 731.9,312.7 731.5,314.4 730.9,316.3 730.4,316.3 729.9,317.7 729.3,318.1 728.9,313.8 728.1,307.0 727.9,307.8 727.0,312.6 726.9,314.1 725.9,321.9 725.9,322.0 724.9,328.1 724.8,329.3 723.9,333.5 723.3,336.7 722.9,338.0 721.9,341.8 721.9,342.2 720.9,342.9 720.4,342.2 719.9,349.0 719.3,357.0 718.9,354.1 717.9,347.4 717.8,345.9 716.9,347.1 716.3,347.8 715.9,351.0 714.9,356.0 714.8,357.0 713.9,360.7 713.4,362.5 712.9,359.5 711.9,355.1 711.9,354.7 710.9,352.4 710.3,350.8 709.9,352.5 708.9,356.0 708.8,356.6 707.9,351.3 707.2,346.9 706.9,345.4 706.0,341.0 705.9,341.5 704.9,342.0 704.8,343.0 703.9,346.4 703.3,348.8 702.9,347.6 701.9,346.5 701.7,346.9 700.9,344.6 700.2,343.0 699.9,342.0 698.9,338.2 698.6,337.1 697.9,334.7 697.0,331.2 696.9,332.0 695.9,333.8 695.9,333.2 694.9,333.6 694.3,335.2 693.9,335.7 692.9,337.2 692.7,337.1 691.9,334.1 691.6,333.2 690.9,331.2 690.7,330.0 690.0,335.0 689.9,336.3 688.9,339.5 688.5,342.0 688.0,342.0 687.9,342.3 686.9,353.0 686.9,352.7 685.9,350.8 685.3,350.8 684.9,350.2 683.9,350.1 683.8,350.8 682.9,352.3 682.2,354.7 681.9,355.2 680.9,358.2 680.6,358.6 679.9,360.3 679.1,360.5 678.9,359.6 677.9,360.7 677.5,359.6 676.9,359.8 675.9,360.5 675.9,360.0 674.9,358.8 674.4,356.6 673.9,358.3 673.2,358.6 672.9,359.8 671.9,360.0 671.6,360.5 670.9,360.5 670.1,358.6 669.9,358.9 668.9,362.1 668.5,362.5 667.9,362.6 667.0,364.5 666.9,363.9 665.9,363.9 665.4,362.5 664.9,362.2 663.9,362.0 663.8,362.5 662.9,359.0 662.3,356.6 661.9,358.0 661.1,358.6 660.9,358.4 659.9,363.7 659.5,364.5 658.9,366.0 658.0,368.4 657.9,368.2 656.9,368.1 656.4,368.4 655.9,368.7 654.9,367.9 654.8,368.4 653.9,372.8 653.3,376.2 652.9,377.7 651.9,378.9 651.7,380.1 650.9,378.7 650.2,378.1 649.9,377.2 648.9,378.0 648.6,377.1 647.9,377.4 647.0,378.1 646.9,377.4 645.9,374.7 645.5,372.3 644.9,371.8 643.9,369.3 643.9,368.6 642.9,369.2 642.3,370.3 641.9,370.9 640.9,370.8 640.8,370.3 639.9,367.9 639.2,364.5 638.9,364.4 637.9,363.7 637.7,364.5 636.9,368.0 636.1,370.3 635.9,370.2 634.9,369.1 634.5,368.4 633.9,369.2 633.0,372.3 632.9,372.1 631.9,376.4 631.4,378.1 630.9,380.0 629.9,385.7 629.8,385.9 628.9,389.7 628.7,391.8 627.9,388.0 627.5,385.9 626.9,386.1 626.3,385.9 625.9,385.2 625.2,382.0 624.9,382.9 623.9,387.3 623.8,387.9 622.9,392.3 622.4,393.8 621.9,393.8 620.9,394.1 620.9,394.9 619.9,395.9 618.9,397.4 618.8,398.4 617.9,399.8 617.3,399.3 616.9,398.4 615.9,397.8 615.7,397.4 614.9,395.4 614.1,394.5 613.9,394.1 612.9,394.9 612.6,394.5 611.9,397.3 611.0,400.3 610.9,400.9 609.9,401.0 609.5,402.3 608.9,403.5 607.9,406.1 607.9,406.2 606.9,408.8 606.3,410.1 605.9,411.2 604.9,413.2 604.8,414.0 603.9,415.4 603.2,417.9 602.9,418.2 601.9,419.1 601.6,419.8 600.9,419.8 600.1,420.8 599.9,420.4 598.9,421.6 598.5,420.8 597.9,421.1 597.0,421.8 596.9,421.9 595.9,420.6 595.4,420.8 594.9,421.1 593.9,418.2 593.8,418.9 592.9,418.7 592.3,417.9 591.9,418.0 590.9,416.4 590.7,416.9 589.9,416.3 589.1,415.0 588.9,414.9 587.9,414.3 587.6,413.0 586.9,414.1 586.0,414.0 585.9,413.7 584.9,413.4 584.5,413.0 583.9,413.2 582.9,410.9 582.9,411.1 581.9,410.5 581.3,410.1 580.9,409.7 579.9,409.5 579.8,410.1 578.9,409.2 578.2,409.1 577.9,408.5 576.9,408.9 576.6,408.1 575.9,407.0 575.1,405.2 574.9,404.3 573.9,403.8 573.5,404.2 572.9,404.3 572.0,405.2 571.9,405.8 570.9,407.2 570.4,408.1 569.9,407.8 568.9,409.1 568.8,409.1 567.9,409.1 567.3,408.1 566.9,406.6 565.9,404.0 565.7,404.2 564.9,402.5 564.1,400.3 563.9,399.2 562.9,397.5 562.6,396.4 561.9,394.3 561.0,392.5 560.9,392.8 559.9,388.2 559.8,388.6 558.9,384.3 558.7,382.7 557.9,382.1 557.5,380.8 556.9,384.4 556.3,386.6 555.9,385.4 555.2,384.7 554.9,385.4 554.0,386.6 553.9,385.9 552.9,377.4 552.8,376.9 552.0,369.1 551.9,371.2 551.2,378.8 550.9,382.0 550.5,386.6 549.9,391.9 549.3,398.4 548.9,400.9 548.1,404.2 547.9,404.9 546.9,404.8 546.6,405.2 545.9,405.9 545.0,406.2 544.9,405.4 543.9,405.7 543.4,405.2 542.9,406.1 541.9,406.5 541.9,406.2 540.9,405.1 540.3,405.2 539.9,406.0 538.9,407.5 538.8,407.1 537.9,409.4 537.2,411.1 536.9,410.4 535.9,408.1 535.6,408.1 534.9,407.4 534.1,406.2 533.9,405.7 532.9,403.8 532.5,403.2 531.9,403.3 530.9,402.3 530.9,401.4 529.9,401.2 529.4,401.3 528.9,401.6 527.9,399.7 527.8,399.3 526.9,398.2 526.2,397.4 525.9,396.4 525.6,396.4 524.9,397.4 524.0,398.4 523.9,399.6 522.9,402.9 522.5,404.2 521.9,405.4 520.9,408.1 520.9,408.0 519.9,409.6 519.4,409.1 518.9,407.8 517.9,405.5 517.8,406.2 516.9,405.3 516.2,404.2 515.9,404.9 514.9,406.2 514.7,407.1 513.9,408.5 513.1,410.1 512.9,410.6 511.9,409.6 511.5,409.1 510.9,408.1 510.0,408.1 509.9,407.3 508.9,407.8 508.4,407.1 507.9,406.8 506.9,403.7 506.9,404.2 505.9,401.1 505.3,400.3 504.9,399.3 503.9,396.6 503.7,396.4 502.9,397.5 502.2,399.3 501.9,398.6 500.9,399.1 500.6,398.4 499.9,397.9 499.0,396.4 498.9,395.6 497.9,394.9 497.5,394.5 496.9,395.9 495.9,398.4 495.9,397.9 494.9,396.8 494.4,396.4 493.9,391.8 493.2,386.6 492.9,387.9 492.0,388.6 491.9,388.4 490.9,394.6 490.5,396.4 489.9,397.5 488.9,401.1 488.9,400.3 487.9,400.4 487.3,400.3 486.9,400.5 485.9,398.1 485.8,398.4 484.9,399.9 484.2,402.3 483.9,404.2 482.9,407.3 482.6,408.1 481.9,409.6 481.1,412.0 480.9,412.8 479.9,418.2 479.5,419.8 478.9,421.5 478.0,422.8 477.9,423.2 476.9,422.6 476.4,421.8 475.9,421.5 474.9,421.6 474.8,421.8 473.9,420.6 473.3,420.8 472.9,421.3 471.9,418.3 471.7,418.9 470.9,417.9 470.1,415.9 469.9,415.5 468.9,413.4 468.6,412.0 467.9,410.3 467.0,408.1 466.9,408.9 465.9,406.2 465.5,406.2 464.9,405.6 463.9,404.7 463.9,404.2 462.9,404.0 462.3,403.2 461.9,404.4 460.9,405.9 460.8,405.2 459.9,405.0 459.2,406.2 458.9,405.1 457.9,402.1 457.6,402.3 456.9,401.9 456.1,400.3 455.9,400.8 454.9,401.1 454.5,400.3 453.9,401.6 453.0,404.2 452.9,404.1 451.9,404.0 451.4,405.2 450.9,404.6 449.9,402.3 449.8,402.3 448.9,401.6 448.3,400.3 447.9,399.2 446.9,398.6 446.7,398.4 445.9,399.2 445.1,401.3 444.9,400.6 443.9,401.6 443.6,402.3 442.9,402.7 442.0,401.3 441.9,400.4 440.9,400.6 440.5,400.3 439.9,400.8 438.9,398.5 438.9,399.3 437.9,398.8 437.3,398.4 436.9,398.7 435.9,400.8 435.8,401.3 434.9,401.5 434.2,400.3 433.9,400.0 432.9,397.1 432.6,396.4 431.9,394.6 431.3,392.5 430.9,391.2 429.9,388.6" fill="#0b2a3e" stroke="#0b2a3e" stroke-width="1" stroke-linejoin="round"/>
<polyline points="429.9,382.7 431.3,386.6 432.6,391.5 434.2,395.4 435.8,396.9 437.3,394.5 438.9,395.4 440.5,396.4 442.0,397.4 443.6,398.4 445.1,397.9 446.7,394.9 448.3,396.9 449.8,398.8 451.4,401.3 453.0,400.3 454.5,396.4 456.1,396.9 457.6,398.8 459.2,402.3 460.8,401.3 462.3,399.8 463.9,400.8 465.5,402.8 467.0,404.7 468.6,408.6 470.1,412.0 471.7,415.0 473.3,416.9 474.8,417.9 476.4,417.9 478.0,418.9 479.5,415.4 481.1,407.1 482.6,403.7 484.2,397.4 485.8,394.5 487.3,395.9 488.9,396.4 490.5,391.5 492.0,383.2 493.2,381.8 494.4,390.5 495.9,393.5 497.5,390.5 499.0,392.5 500.6,395.4 502.2,395.9 503.7,392.5 505.3,396.4 506.9,400.3 508.4,403.7 510.0,405.2 511.5,406.2 513.1,407.1 514.7,403.7 516.2,400.8 517.8,403.2 519.4,406.2 520.9,404.7 522.5,400.3 524.0,393.5 525.6,391.5 526.2,393.0 527.8,395.4 529.4,397.9 530.9,398.8 532.5,399.8 534.1,402.3 535.6,404.2 537.2,406.2 538.8,402.8 540.3,401.3 541.9,401.8 543.4,401.3 545.0,402.3 546.6,401.8 548.1,400.3 549.3,392.5 550.5,376.9 551.2,363.2 552.0,357.8 552.8,367.1 554.0,377.9 555.2,379.8 556.3,381.8 557.5,375.9 558.7,376.4 559.8,381.8 561.0,386.6 562.6,391.5 564.1,395.4 565.7,400.3 567.3,403.2 568.8,403.2 570.4,402.3 572.0,401.3 573.5,400.8 575.1,400.8 576.6,404.2 578.2,405.7 579.8,406.7 581.3,406.7 582.9,407.6 584.5,409.1 586.0,409.6 587.6,409.6 589.1,411.5 590.7,413.5 592.3,415.0 593.8,415.9 595.4,417.4 597.0,418.4 598.5,417.9 600.1,417.4 601.6,416.4 603.2,414.5 604.8,410.6 606.3,406.2 607.9,401.8 609.5,399.3 611.0,395.4 612.6,390.5 614.1,391.0 615.7,393.5 617.3,395.9 618.8,394.9 620.9,392.4 622.4,389.8 623.8,382.0 625.2,373.7 626.3,380.1 627.5,381.1 628.7,385.0 629.8,380.1 631.4,373.2 633.0,367.4 634.5,363.0 636.1,364.5 637.7,359.6 639.2,360.1 640.8,365.4 642.3,366.4 643.9,365.4 645.5,368.4 647.0,374.2 648.6,374.7 650.2,375.2 651.7,377.1 653.3,371.3 654.8,363.5 656.4,364.5 658.0,365.4 659.5,360.5 661.1,353.7 662.3,352.2 663.8,358.6 665.4,359.6 667.0,361.0 668.5,359.6 670.1,355.7 671.6,357.1 673.2,354.2 674.4,351.8 675.9,356.6 677.5,356.2 679.1,357.1 680.6,355.2 682.2,350.8 683.8,345.9 685.3,346.9 686.9,348.8 688.0,321.0 688.5,310.6 690.0,307.1 690.7,314.0 691.6,328.3 692.7,332.2 694.3,330.3 695.9,324.4 697.0,324.4 698.6,332.2 700.2,338.1 701.7,343.0 703.3,344.9 704.8,338.1 706.0,335.6 707.2,342.0 708.8,350.8 710.3,343.9 711.9,349.8 713.4,357.6 714.8,348.7 716.3,341.3 717.8,339.4 719.3,345.9 720.4,335.7 721.9,335.7 723.3,331.1 724.8,322.8 725.9,314.4 727.0,305.2 728.1,300.1 729.3,307.0 730.4,309.4 731.5,308.0 732.6,304.3 733.7,300.6 734.8,306.1 736.3,308.9 737.8,307.0 739.3,303.3 740.7,301.5 742.2,297.8 743.7,301.5 745.2,303.3 746.7,301.9 748.1,303.3 749.6,306.1 750.7,301.9 752.2,303.3 753.7,304.3 755.2,300.6 756.7,304.3" fill="none" stroke="#0b2a3e" stroke-width="3.0" stroke-linejoin="round" stroke-linecap="round"/>
<text x="6" y="475" class="ft">Fuente: Bloomberg, Afi</text>
</svg>
</body></html>
